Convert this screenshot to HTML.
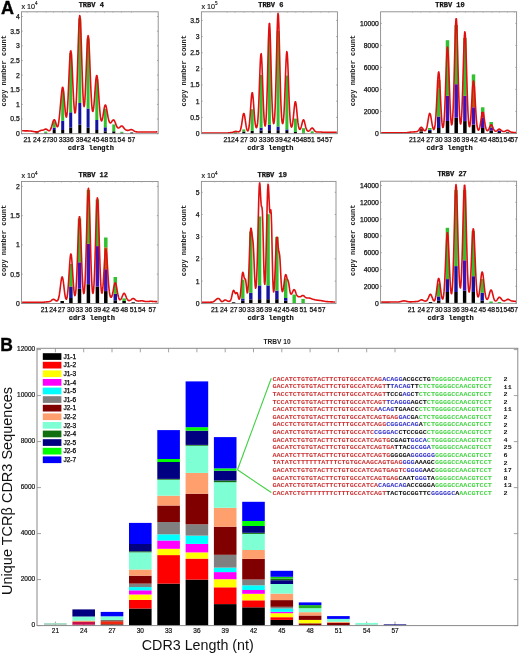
<!DOCTYPE html><html><head><meta charset="utf-8"><style>html,body{margin:0;padding:0;background:#fff;}svg{display:block;filter:blur(0.4px);}</style></head><body><svg width="520" height="654" viewBox="0 0 520 654">
<rect width="520" height="654" fill="#fff"/>
<text x="0.9" y="14" font-size="18" font-weight="bold" font-family='"Liberation Sans", sans-serif' fill="#000" stroke="#000" stroke-width="0.35">A</text>
<rect x="35.5" y="132.4" width="3" height="1.3" fill="#000"/>
<rect x="44.2" y="132.8" width="3" height="0.9" fill="#000"/>
<rect x="44.2" y="131.6" width="3" height="1.2" fill="#30c030"/>
<rect x="52.7" y="130" width="3" height="3.7" fill="#000"/>
<rect x="52.7" y="127.7" width="3" height="2.3" fill="#1414a0"/>
<rect x="52.7" y="121.5" width="3" height="6.2" fill="#30c030"/>
<rect x="61.2" y="130" width="3" height="3.7" fill="#000"/>
<rect x="61.2" y="120.8" width="3" height="9.2" fill="#1414a0"/>
<rect x="61.2" y="90.8" width="3" height="30" fill="#30c030"/>
<rect x="69.2" y="127.7" width="3" height="6" fill="#000"/>
<rect x="69.2" y="112.3" width="3" height="15.4" fill="#1414a0"/>
<rect x="69.2" y="53" width="3" height="59.3" fill="#30c030"/>
<rect x="78.3" y="124.6" width="3" height="9.1" fill="#000"/>
<rect x="78.3" y="103" width="3" height="21.6" fill="#1414a0"/>
<rect x="78.3" y="18.5" width="3" height="84.5" fill="#30c030"/>
<rect x="86.6" y="127.7" width="3" height="6" fill="#000"/>
<rect x="86.6" y="108.5" width="3" height="19.2" fill="#1414a0"/>
<rect x="86.6" y="38.5" width="3" height="70" fill="#30c030"/>
<rect x="95.3" y="130" width="3" height="3.7" fill="#000"/>
<rect x="95.3" y="120" width="3" height="10" fill="#1414a0"/>
<rect x="95.3" y="79.2" width="3" height="40.8" fill="#30c030"/>
<rect x="103.8" y="131.3" width="3" height="2.4" fill="#000"/>
<rect x="103.8" y="127.3" width="3" height="4" fill="#1414a0"/>
<rect x="103.8" y="108.8" width="3" height="18.5" fill="#30c030"/>
<rect x="112.3" y="131.3" width="3" height="2.4" fill="#000"/>
<rect x="112.3" y="124.4" width="3" height="6.9" fill="#30c030"/>
<rect x="120.3" y="132.8" width="3" height="0.9" fill="#000"/>
<rect x="120.3" y="131.8" width="3" height="1" fill="#30c030"/>
<rect x="130.2" y="132.5" width="3" height="1.2" fill="#000"/>
<path d="M22.1,130.8 L22.5,130.8 L22.9,130.81 L23.3,130.81 L23.7,130.81 L24.1,130.82 L24.5,130.83 L24.9,130.83 L25.3,130.84 L25.7,130.85 L26.1,130.86 L26.5,130.87 L26.9,130.88 L27.3,130.9 L27.7,130.91 L28.1,130.92 L28.5,130.94 L28.9,130.95 L29.3,130.97 L29.7,130.99 L30.1,131 L30.5,131.03 L30.9,131.08 L31.3,131.13 L31.7,131.19 L32.1,131.26 L32.5,131.34 L32.9,131.42 L33.3,131.5 L33.7,131.58 L34.1,131.65 L34.5,131.73 L34.9,131.79 L35.3,131.84 L35.7,131.88 L36.1,131.9 L36.5,131.91 L36.9,131.89 L37.3,131.85 L37.7,131.77 L38.1,131.66 L38.5,131.5 L38.9,131.32 L39.3,131.12 L39.7,130.92 L40.1,130.73 L40.5,130.56 L40.9,130.43 L41.3,130.33 L41.7,130.27 L42.1,130.23 L42.5,130.19 L42.9,130.13 L43.3,130.01 L43.7,129.86 L44.1,129.67 L44.5,129.46 L44.9,129.28 L45.3,129.15 L45.7,129.1 L46.1,129.14 L46.5,129.28 L46.9,129.51 L47.3,129.79 L47.7,130.08 L48.1,130.36 L48.5,130.58 L48.9,130.71 L49.3,130.71 L49.7,130.54 L50.1,130.17 L50.5,129.57 L50.9,128.71 L51.3,127.62 L51.7,126.32 L52.1,124.88 L52.5,123.42 L52.9,122.04 L53.3,120.89 L53.7,120.09 L54.1,119.72 L54.5,119.83 L54.9,120.39 L55.3,121.35 L55.7,122.57 L56.1,123.9 L56.5,125.17 L56.9,126.2 L57.3,126.78 L57.7,126.71 L58.1,125.78 L58.5,123.86 L58.9,120.99 L59.3,117.37 L59.7,113.3 L60.1,109 L60.5,104.57 L60.9,100.06 L61.3,95.67 L61.7,91.76 L62.1,88.8 L62.5,87.25 L62.9,87.39 L63.3,89.24 L63.7,92.6 L64.1,97.07 L64.5,102.12 L64.9,107.16 L65.3,111.64 L65.7,115.04 L66.1,116.96 L66.5,117.08 L66.9,115.18 L67.3,111.17 L67.7,105.13 L68.1,97.33 L68.5,88.26 L68.9,78.59 L69.3,69.17 L69.7,60.92 L70.1,54.7 L70.5,51.2 L70.9,50.8 L71.3,53.5 L71.7,58.96 L72.1,66.51 L72.5,75.32 L72.9,84.5 L73.3,93.23 L73.7,100.85 L74.1,106.88 L74.5,110.99 L74.9,112.98 L75.3,112.71 L75.7,110.05 L76.1,104.91 L76.5,97.3 L76.9,87.37 L77.3,75.51 L77.7,62.39 L78.1,48.96 L78.5,36.38 L78.9,25.9 L79.3,18.66 L79.7,15.5 L80.1,16.8 L80.5,22.42 L80.9,31.72 L81.3,43.64 L81.7,56.93 L82.1,70.29 L82.5,82.57 L82.9,92.85 L83.3,100.49 L83.7,105.11 L84.1,106.56 L84.5,104.84 L84.9,100.14 L85.3,92.83 L85.7,83.49 L86.1,72.87 L86.5,61.94 L86.9,51.76 L87.3,43.42 L87.7,37.82 L88.1,35.6 L88.5,37 L88.9,41.8 L89.3,49.43 L89.7,59 L90.1,69.52 L90.5,80.01 L90.9,89.65 L91.3,97.84 L91.7,104.21 L92.1,108.6 L92.5,111 L92.9,111.49 L93.3,110.2 L93.7,107.33 L94.1,103.15 L94.5,98.02 L94.9,92.37 L95.3,86.76 L95.7,81.77 L96.1,77.95 L96.5,75.77 L96.9,75.53 L97.3,77.27 L97.7,80.81 L98.1,85.79 L98.5,91.67 L98.9,97.91 L99.3,103.96 L99.7,109.39 L100.1,113.91 L100.5,117.33 L100.9,119.61 L101.3,120.76 L101.7,120.89 L102.1,120.1 L102.5,118.56 L102.9,116.45 L103.3,113.97 L103.7,111.39 L104.1,108.96 L104.5,106.95 L104.9,105.58 L105.3,105 L105.7,105.27 L106.1,106.35 L106.5,108.09 L106.9,110.29 L107.3,112.72 L107.7,115.15 L108.1,117.4 L108.5,119.33 L108.9,120.85 L109.3,121.95 L109.7,122.63 L110.1,122.95 L110.5,122.96 L110.9,122.7 L111.3,122.26 L111.7,121.69 L112.1,121.08 L112.5,120.52 L112.9,120.1 L113.3,119.89 L113.7,119.94 L114.1,120.28 L114.5,120.9 L114.9,121.74 L115.3,122.75 L115.7,123.83 L116.1,124.9 L116.5,125.89 L116.9,126.73 L117.3,127.38 L117.7,127.82 L118.1,128.04 L118.5,128.07 L118.9,127.94 L119.3,127.69 L119.7,127.35 L120.1,126.96 L120.5,126.59 L120.9,126.27 L121.3,126.06 L121.7,125.99 L122.1,126.08 L122.5,126.31 L122.9,126.68 L123.3,127.14 L123.7,127.65 L124.1,128.17 L124.5,128.67 L124.9,129.11 L125.3,129.49 L125.7,129.8 L126.1,130.03 L126.5,130.2 L126.9,130.31 L127.3,130.38 L127.7,130.4 L128.1,130.38 L128.5,130.31 L128.9,130.21 L129.3,130.09 L129.7,129.94 L130.1,129.8 L130.5,129.67 L130.9,129.59 L131.3,129.56 L131.7,129.6 L132.1,129.71 L132.5,129.89 L132.9,130.12 L133.3,130.39 L133.7,130.67 L134.1,130.95 L134.5,131.2 L134.9,131.42 L135.3,131.6 L135.7,131.73 L136.1,131.82 L136.5,131.88 L136.9,131.92 L137.3,131.95 L137.7,131.97 L138.1,131.98 L138.5,131.98 L138.9,131.99 L139.3,131.99 L139.7,131.99 L140.1,131.99 L140.5,131.99 L140.9,131.99 L141.3,131.99 L141.7,131.99 L142.1,131.99 L142.5,131.99 L142.9,131.99 L143.3,131.99 L143.7,131.99 L144.1,131.98 L144.5,131.98 L144.9,131.98 L145.3,131.98 L145.7,131.98 L146.1,131.98 L146.5,131.98 L146.9,131.98 L147.3,131.98 L147.7,131.98 L148.1,131.97 L148.5,131.97 L148.9,131.97 L149.3,131.97 L149.7,131.97 L150.1,131.97 L150.5,131.96 L150.9,131.96 L151.3,131.96 L151.7,131.96 L152.1,131.95 L152.5,131.95 L152.9,131.95 L153.3,131.95 L153.7,131.94 L154.1,131.94 L154.5,131.94 L154.9,131.93 L155.3,131.93 L155.7,131.93 L156.1,131.92 L156.5,131.92 L156.9,131.91 L157.3,131.91" fill="none" stroke="#e01010" stroke-width="1.6" stroke-linejoin="round"/>
<rect x="21.5" y="11.8" width="136.7" height="121.9" fill="none" stroke="#8a8a8a" stroke-width="0.9"/>
<line x1="21.5" y1="133.7" x2="22.8" y2="133.7" stroke="#8a8a8a" stroke-width="0.7"/>
<line x1="158.2" y1="133.7" x2="156.89999999999998" y2="133.7" stroke="#8a8a8a" stroke-width="0.7"/>
<text x="19.7" y="136.1" text-anchor="end" font-size="6.8" font-family='"Liberation Sans", sans-serif' fill="#111" stroke="#111" stroke-width="0.25">0</text>
<line x1="21.5" y1="119.05" x2="22.8" y2="119.05" stroke="#8a8a8a" stroke-width="0.7"/>
<line x1="158.2" y1="119.05" x2="156.89999999999998" y2="119.05" stroke="#8a8a8a" stroke-width="0.7"/>
<text x="19.7" y="121.45" text-anchor="end" font-size="6.8" font-family='"Liberation Sans", sans-serif' fill="#111" stroke="#111" stroke-width="0.25">0.5</text>
<line x1="21.5" y1="104.4" x2="22.8" y2="104.4" stroke="#8a8a8a" stroke-width="0.7"/>
<line x1="158.2" y1="104.4" x2="156.89999999999998" y2="104.4" stroke="#8a8a8a" stroke-width="0.7"/>
<text x="19.7" y="106.8" text-anchor="end" font-size="6.8" font-family='"Liberation Sans", sans-serif' fill="#111" stroke="#111" stroke-width="0.25">1</text>
<line x1="21.5" y1="89.75" x2="22.8" y2="89.75" stroke="#8a8a8a" stroke-width="0.7"/>
<line x1="158.2" y1="89.75" x2="156.89999999999998" y2="89.75" stroke="#8a8a8a" stroke-width="0.7"/>
<text x="19.7" y="92.15" text-anchor="end" font-size="6.8" font-family='"Liberation Sans", sans-serif' fill="#111" stroke="#111" stroke-width="0.25">1.5</text>
<line x1="21.5" y1="75.1" x2="22.8" y2="75.1" stroke="#8a8a8a" stroke-width="0.7"/>
<line x1="158.2" y1="75.1" x2="156.89999999999998" y2="75.1" stroke="#8a8a8a" stroke-width="0.7"/>
<text x="19.7" y="77.5" text-anchor="end" font-size="6.8" font-family='"Liberation Sans", sans-serif' fill="#111" stroke="#111" stroke-width="0.25">2</text>
<line x1="21.5" y1="60.45" x2="22.8" y2="60.45" stroke="#8a8a8a" stroke-width="0.7"/>
<line x1="158.2" y1="60.45" x2="156.89999999999998" y2="60.45" stroke="#8a8a8a" stroke-width="0.7"/>
<text x="19.7" y="62.85" text-anchor="end" font-size="6.8" font-family='"Liberation Sans", sans-serif' fill="#111" stroke="#111" stroke-width="0.25">2.5</text>
<line x1="21.5" y1="45.8" x2="22.8" y2="45.8" stroke="#8a8a8a" stroke-width="0.7"/>
<line x1="158.2" y1="45.8" x2="156.89999999999998" y2="45.8" stroke="#8a8a8a" stroke-width="0.7"/>
<text x="19.7" y="48.2" text-anchor="end" font-size="6.8" font-family='"Liberation Sans", sans-serif' fill="#111" stroke="#111" stroke-width="0.25">3</text>
<line x1="21.5" y1="31.15" x2="22.8" y2="31.15" stroke="#8a8a8a" stroke-width="0.7"/>
<line x1="158.2" y1="31.15" x2="156.89999999999998" y2="31.15" stroke="#8a8a8a" stroke-width="0.7"/>
<text x="19.7" y="33.55" text-anchor="end" font-size="6.8" font-family='"Liberation Sans", sans-serif' fill="#111" stroke="#111" stroke-width="0.25">3.5</text>
<line x1="21.5" y1="16.5" x2="22.8" y2="16.5" stroke="#8a8a8a" stroke-width="0.7"/>
<line x1="158.2" y1="16.5" x2="156.89999999999998" y2="16.5" stroke="#8a8a8a" stroke-width="0.7"/>
<text x="19.7" y="18.9" text-anchor="end" font-size="6.8" font-family='"Liberation Sans", sans-serif' fill="#111" stroke="#111" stroke-width="0.25">4</text>
<line x1="27.2" y1="11.8" x2="27.2" y2="13.0" stroke="#aaa" stroke-width="0.6"/>
<text x="27.2" y="142.1" text-anchor="middle" font-size="6.8" font-family='"Liberation Sans", sans-serif' fill="#111" stroke="#111" stroke-width="0.25">21</text>
<line x1="36.9" y1="11.8" x2="36.9" y2="13.0" stroke="#aaa" stroke-width="0.6"/>
<text x="36.9" y="142.1" text-anchor="middle" font-size="6.8" font-family='"Liberation Sans", sans-serif' fill="#111" stroke="#111" stroke-width="0.25">24</text>
<line x1="46.2" y1="11.8" x2="46.2" y2="13.0" stroke="#aaa" stroke-width="0.6"/>
<text x="46.2" y="142.1" text-anchor="middle" font-size="6.8" font-family='"Liberation Sans", sans-serif' fill="#111" stroke="#111" stroke-width="0.25">27</text>
<line x1="53.4" y1="11.8" x2="53.4" y2="13.0" stroke="#aaa" stroke-width="0.6"/>
<text x="53.4" y="142.1" text-anchor="middle" font-size="6.8" font-family='"Liberation Sans", sans-serif' fill="#111" stroke="#111" stroke-width="0.25">30</text>
<line x1="62.5" y1="11.8" x2="62.5" y2="13.0" stroke="#aaa" stroke-width="0.6"/>
<text x="62.5" y="142.1" text-anchor="middle" font-size="6.8" font-family='"Liberation Sans", sans-serif' fill="#111" stroke="#111" stroke-width="0.25">33</text>
<line x1="69.9" y1="11.8" x2="69.9" y2="13.0" stroke="#aaa" stroke-width="0.6"/>
<text x="69.9" y="142.1" text-anchor="middle" font-size="6.8" font-family='"Liberation Sans", sans-serif' fill="#111" stroke="#111" stroke-width="0.25">36</text>
<line x1="79.6" y1="11.8" x2="79.6" y2="13.0" stroke="#aaa" stroke-width="0.6"/>
<text x="79.6" y="142.1" text-anchor="middle" font-size="6.8" font-family='"Liberation Sans", sans-serif' fill="#111" stroke="#111" stroke-width="0.25">39</text>
<line x1="87.2" y1="11.8" x2="87.2" y2="13.0" stroke="#aaa" stroke-width="0.6"/>
<text x="87.2" y="142.1" text-anchor="middle" font-size="6.8" font-family='"Liberation Sans", sans-serif' fill="#111" stroke="#111" stroke-width="0.25">42</text>
<line x1="95.8" y1="11.8" x2="95.8" y2="13.0" stroke="#aaa" stroke-width="0.6"/>
<text x="95.8" y="142.1" text-anchor="middle" font-size="6.8" font-family='"Liberation Sans", sans-serif' fill="#111" stroke="#111" stroke-width="0.25">45</text>
<line x1="104.4" y1="11.8" x2="104.4" y2="13.0" stroke="#aaa" stroke-width="0.6"/>
<text x="104.4" y="142.1" text-anchor="middle" font-size="6.8" font-family='"Liberation Sans", sans-serif' fill="#111" stroke="#111" stroke-width="0.25">48</text>
<line x1="113" y1="11.8" x2="113" y2="13.0" stroke="#aaa" stroke-width="0.6"/>
<text x="113" y="142.1" text-anchor="middle" font-size="6.8" font-family='"Liberation Sans", sans-serif' fill="#111" stroke="#111" stroke-width="0.25">51</text>
<line x1="121.4" y1="11.8" x2="121.4" y2="13.0" stroke="#aaa" stroke-width="0.6"/>
<text x="121.4" y="142.1" text-anchor="middle" font-size="6.8" font-family='"Liberation Sans", sans-serif' fill="#111" stroke="#111" stroke-width="0.25">54</text>
<line x1="131.5" y1="11.8" x2="131.5" y2="13.0" stroke="#aaa" stroke-width="0.6"/>
<text x="131.5" y="142.1" text-anchor="middle" font-size="6.8" font-family='"Liberation Sans", sans-serif' fill="#111" stroke="#111" stroke-width="0.25">57</text>
<text transform="translate(90.85,150) scale(1,0.92)" text-anchor="middle" font-size="7" font-weight="bold" font-family='"Liberation Mono", monospace' fill="#111" stroke="#111" stroke-width="0.2">cdr3 length</text>
<text transform="translate(91.25,7) scale(1,1)" text-anchor="middle" font-size="7" font-weight="bold" font-family='"Liberation Mono", monospace' fill="#111" stroke="#111" stroke-width="0.25">TRBV 4</text>
<text transform="translate(6.3,70.75) rotate(-90)" x="0" y="0" text-anchor="middle" font-size="7" font-weight="bold" font-family='"Liberation Mono", monospace' fill="#222">copy number count</text>
<text x="21.5" y="8.6" font-size="7.2" font-family='"Liberation Sans", sans-serif' fill="#111" stroke="#111" stroke-width="0.15">x 10<tspan font-size="4.6" dy="-3.4">4</tspan></text>
<rect x="234" y="132.8" width="3" height="0.7" fill="#000"/>
<rect x="234" y="132" width="3" height="0.8" fill="#30c030"/>
<rect x="242.3" y="131.5" width="3" height="2" fill="#000"/>
<rect x="242.3" y="129.4" width="3" height="2.1" fill="#30c030"/>
<rect x="250.7" y="130.8" width="3" height="2.7" fill="#000"/>
<rect x="250.7" y="109.2" width="3" height="21.6" fill="#30c030"/>
<rect x="259.6" y="130.5" width="3" height="3" fill="#000"/>
<rect x="259.6" y="127.7" width="3" height="2.8" fill="#1414a0"/>
<rect x="259.6" y="75" width="3" height="52.7" fill="#30c030"/>
<rect x="267.9" y="130.2" width="3" height="3.3" fill="#000"/>
<rect x="267.9" y="124.8" width="3" height="5.4" fill="#1414a0"/>
<rect x="267.9" y="37.5" width="3" height="87.3" fill="#30c030"/>
<rect x="276.6" y="130.2" width="3" height="3.3" fill="#000"/>
<rect x="276.6" y="126.5" width="3" height="3.7" fill="#1414a0"/>
<rect x="276.6" y="31" width="3" height="95.5" fill="#30c030"/>
<rect x="285.4" y="131" width="3" height="2.5" fill="#000"/>
<rect x="285.4" y="129.4" width="3" height="1.6" fill="#1414a0"/>
<rect x="285.4" y="75.6" width="3" height="53.8" fill="#30c030"/>
<rect x="293.9" y="132" width="3" height="1.5" fill="#000"/>
<rect x="293.9" y="118.6" width="3" height="13.4" fill="#30c030"/>
<rect x="302" y="132.8" width="3" height="0.7" fill="#000"/>
<rect x="302" y="128.2" width="3" height="4.6" fill="#30c030"/>
<rect x="310.7" y="131.3" width="3" height="2.2" fill="#30c030"/>
<path d="M202,133 L202.4,133 L202.8,133 L203.2,133 L203.6,133 L204,133 L204.4,133 L204.8,133 L205.2,133 L205.6,133 L206,133 L206.4,133 L206.8,133 L207.2,133 L207.6,133 L208,133 L208.4,133 L208.8,133 L209.2,133 L209.6,133 L210,133 L210.4,133 L210.8,133 L211.2,133 L211.6,133 L212,133 L212.4,133 L212.8,133 L213.2,133 L213.6,133 L214,133 L214.4,133 L214.8,133 L215.2,133 L215.6,133 L216,133 L216.4,133 L216.8,133 L217.2,133 L217.6,133 L218,133 L218.4,133 L218.8,133 L219.2,133 L219.6,133 L220,133 L220.4,133 L220.8,133 L221.2,133 L221.6,133 L222,133 L222.4,133 L222.8,133 L223.2,133 L223.6,133 L224,133 L224.4,133 L224.8,133 L225.2,133 L225.6,133 L226,133 L226.4,133 L226.8,132.98 L227.2,132.96 L227.6,132.93 L228,132.9 L228.4,132.86 L228.8,132.82 L229.2,132.78 L229.6,132.74 L230,132.7 L230.4,132.66 L230.8,132.62 L231.2,132.58 L231.6,132.53 L232,132.46 L232.4,132.38 L232.8,132.27 L233.2,132.14 L233.6,131.99 L234,131.83 L234.4,131.67 L234.8,131.53 L235.2,131.44 L235.6,131.39 L236,131.4 L236.4,131.45 L236.8,131.54 L237.2,131.64 L237.6,131.73 L238,131.81 L238.4,131.84 L238.8,131.81 L239.2,131.69 L239.6,131.41 L240,130.91 L240.4,130.08 L240.8,128.82 L241.2,127.05 L241.6,124.78 L242,122.11 L242.4,119.29 L242.8,116.66 L243.2,114.62 L243.6,113.53 L244,113.57 L244.4,114.75 L244.8,116.86 L245.2,119.57 L245.6,122.45 L246,125.17 L246.4,127.47 L246.8,129.21 L247.2,130.35 L247.6,130.89 L248,130.8 L248.4,130.01 L248.8,128.37 L249.2,125.74 L249.6,122 L250,117.17 L250.4,111.5 L250.8,105.48 L251.2,99.85 L251.6,95.42 L252,92.9 L252.4,92.71 L252.8,94.85 L253.2,98.92 L253.6,104.21 L254,109.9 L254.4,115.28 L254.8,119.85 L255.2,123.37 L255.6,125.8 L256,127.23 L256.4,127.74 L256.8,127.32 L257.2,125.8 L257.6,122.91 L258,118.28 L258.4,111.59 L258.8,102.77 L259.2,92.15 L259.6,80.59 L260,69.45 L260.4,60.33 L260.8,54.74 L261.2,53.69 L261.6,57.4 L262,65.23 L262.4,75.86 L262.8,87.67 L263.2,99.12 L263.6,109.06 L264,116.83 L264.4,122.22 L264.8,125.25 L265.2,126 L265.6,124.41 L266,120.26 L266.4,113.23 L266.8,103.06 L267.2,89.86 L267.6,74.3 L268,57.81 L268.4,42.4 L268.8,30.35 L269.2,23.64 L269.6,23.44 L270,29.75 L270.4,41.41 L270.8,56.45 L271.2,72.59 L271.6,87.82 L272,100.77 L272.4,110.74 L272.8,117.67 L273.2,121.84 L273.6,123.6 L274,123.12 L274.4,120.32 L274.8,114.91 L275.2,106.47 L275.6,94.78 L276,80.03 L276.4,63.12 L276.8,45.74 L277.2,30.12 L277.6,18.68 L278,13.34 L278.4,15.06 L278.8,23.51 L279.2,37.2 L279.6,53.88 L280,71.16 L280.4,87.04 L280.8,100.24 L281.2,110.25 L281.6,117.15 L282,121.37 L282.4,123.39 L282.8,123.55 L283.2,121.97 L283.6,118.53 L284,113.03 L284.4,105.32 L284.8,95.58 L285.2,84.39 L285.6,72.89 L286,62.57 L286.4,55.05 L286.8,51.63 L287.2,52.92 L287.6,58.73 L288,68.03 L288.4,79.34 L288.8,91.04 L289.2,101.8 L289.6,110.75 L290,117.56 L290.4,122.28 L290.8,125.22 L291.2,126.71 L291.6,127.03 L292,126.35 L292.4,124.73 L292.8,122.2 L293.2,118.82 L293.6,114.81 L294,110.54 L294.4,106.56 L294.8,103.47 L295.2,101.8 L295.6,101.85 L296,103.63 L296.4,106.82 L296.8,110.91 L297.2,115.29 L297.6,119.42 L298,122.94 L298.4,125.66 L298.8,127.57 L299.2,128.75 L299.6,129.31 L300,129.35 L300.4,128.93 L300.8,128.09 L301.2,126.88 L301.6,125.37 L302,123.71 L302.4,122.1 L302.8,120.78 L303.2,119.98 L303.6,119.83 L304,120.38 L304.4,121.52 L304.8,123.08 L305.2,124.81 L305.6,126.49 L306,127.97 L306.4,129.14 L306.8,130 L307.2,130.59 L307.6,130.94 L308,131.12 L308.4,131.16 L308.8,131.08 L309.2,130.88 L309.6,130.56 L310,130.14 L310.4,129.63 L310.8,129.09 L311.2,128.59 L311.6,128.21 L312,128.01 L312.4,128.04 L312.8,128.3 L313.2,128.75 L313.6,129.31 L314,129.9 L314.4,130.47 L314.8,130.95 L315.2,131.33 L315.6,131.61 L316,131.8 L316.4,131.92 L316.8,131.99 L317.2,132.03 L317.6,132.05 L318,132.05 L318.4,132.04 L318.8,132.03 L319.2,132.01 L319.6,132 L320,131.99 L320.4,132 L320.8,132.01 L321.2,132.05 L321.6,132.09 L322,132.13 L322.4,132.18 L322.8,132.22 L323.2,132.25 L323.6,132.28 L324,132.3 L324.4,132.31 L324.8,132.32 L325.2,132.33 L325.6,132.34 L326,132.34 L326.4,132.35 L326.8,132.35 L327.2,132.35 L327.6,132.36 L328,132.36 L328.4,132.36 L328.8,132.37 L329.2,132.37 L329.6,132.37 L330,132.38 L330.4,132.38 L330.8,132.38 L331.2,132.38 L331.6,132.38 L332,132.39 L332.4,132.39 L332.8,132.39 L333.2,132.39 L333.6,132.39 L334,132.4 L334.4,132.4 L334.8,132.4 L335.2,132.4 L335.6,132.4 L336,132.4 L336.4,132.4 L336.8,132.4" fill="none" stroke="#e01010" stroke-width="1.6" stroke-linejoin="round"/>
<rect x="201.4" y="11.8" width="136" height="121.9" fill="none" stroke="#8a8a8a" stroke-width="0.9"/>
<line x1="201.4" y1="133.5" x2="202.70000000000002" y2="133.5" stroke="#8a8a8a" stroke-width="0.7"/>
<line x1="337.4" y1="133.5" x2="336.09999999999997" y2="133.5" stroke="#8a8a8a" stroke-width="0.7"/>
<text x="199.6" y="135.9" text-anchor="end" font-size="6.8" font-family='"Liberation Sans", sans-serif' fill="#111" stroke="#111" stroke-width="0.25">0</text>
<line x1="201.4" y1="117.35" x2="202.70000000000002" y2="117.35" stroke="#8a8a8a" stroke-width="0.7"/>
<line x1="337.4" y1="117.35" x2="336.09999999999997" y2="117.35" stroke="#8a8a8a" stroke-width="0.7"/>
<text x="199.6" y="119.75" text-anchor="end" font-size="6.8" font-family='"Liberation Sans", sans-serif' fill="#111" stroke="#111" stroke-width="0.25">0.5</text>
<line x1="201.4" y1="101.2" x2="202.70000000000002" y2="101.2" stroke="#8a8a8a" stroke-width="0.7"/>
<line x1="337.4" y1="101.2" x2="336.09999999999997" y2="101.2" stroke="#8a8a8a" stroke-width="0.7"/>
<text x="199.6" y="103.6" text-anchor="end" font-size="6.8" font-family='"Liberation Sans", sans-serif' fill="#111" stroke="#111" stroke-width="0.25">1</text>
<line x1="201.4" y1="85.05" x2="202.70000000000002" y2="85.05" stroke="#8a8a8a" stroke-width="0.7"/>
<line x1="337.4" y1="85.05" x2="336.09999999999997" y2="85.05" stroke="#8a8a8a" stroke-width="0.7"/>
<text x="199.6" y="87.45" text-anchor="end" font-size="6.8" font-family='"Liberation Sans", sans-serif' fill="#111" stroke="#111" stroke-width="0.25">1.5</text>
<line x1="201.4" y1="68.9" x2="202.70000000000002" y2="68.9" stroke="#8a8a8a" stroke-width="0.7"/>
<line x1="337.4" y1="68.9" x2="336.09999999999997" y2="68.9" stroke="#8a8a8a" stroke-width="0.7"/>
<text x="199.6" y="71.3" text-anchor="end" font-size="6.8" font-family='"Liberation Sans", sans-serif' fill="#111" stroke="#111" stroke-width="0.25">2</text>
<line x1="201.4" y1="52.75" x2="202.70000000000002" y2="52.75" stroke="#8a8a8a" stroke-width="0.7"/>
<line x1="337.4" y1="52.75" x2="336.09999999999997" y2="52.75" stroke="#8a8a8a" stroke-width="0.7"/>
<text x="199.6" y="55.15" text-anchor="end" font-size="6.8" font-family='"Liberation Sans", sans-serif' fill="#111" stroke="#111" stroke-width="0.25">2.5</text>
<line x1="201.4" y1="36.6" x2="202.70000000000002" y2="36.6" stroke="#8a8a8a" stroke-width="0.7"/>
<line x1="337.4" y1="36.6" x2="336.09999999999997" y2="36.6" stroke="#8a8a8a" stroke-width="0.7"/>
<text x="199.6" y="39" text-anchor="end" font-size="6.8" font-family='"Liberation Sans", sans-serif' fill="#111" stroke="#111" stroke-width="0.25">3</text>
<line x1="201.4" y1="20.45" x2="202.70000000000002" y2="20.45" stroke="#8a8a8a" stroke-width="0.7"/>
<line x1="337.4" y1="20.45" x2="336.09999999999997" y2="20.45" stroke="#8a8a8a" stroke-width="0.7"/>
<text x="199.6" y="22.85" text-anchor="end" font-size="6.8" font-family='"Liberation Sans", sans-serif' fill="#111" stroke="#111" stroke-width="0.25">3.5</text>
<line x1="227.2" y1="11.8" x2="227.2" y2="13.0" stroke="#aaa" stroke-width="0.6"/>
<text x="227.2" y="142.1" text-anchor="middle" font-size="6.8" font-family='"Liberation Sans", sans-serif' fill="#111" stroke="#111" stroke-width="0.25">21</text>
<line x1="234.9" y1="11.8" x2="234.9" y2="13.0" stroke="#aaa" stroke-width="0.6"/>
<text x="234.9" y="142.1" text-anchor="middle" font-size="6.8" font-family='"Liberation Sans", sans-serif' fill="#111" stroke="#111" stroke-width="0.25">24</text>
<line x1="244" y1="11.8" x2="244" y2="13.0" stroke="#aaa" stroke-width="0.6"/>
<text x="244" y="142.1" text-anchor="middle" font-size="6.8" font-family='"Liberation Sans", sans-serif' fill="#111" stroke="#111" stroke-width="0.25">27</text>
<line x1="253.2" y1="11.8" x2="253.2" y2="13.0" stroke="#aaa" stroke-width="0.6"/>
<text x="253.2" y="142.1" text-anchor="middle" font-size="6.8" font-family='"Liberation Sans", sans-serif' fill="#111" stroke="#111" stroke-width="0.25">30</text>
<line x1="262.5" y1="11.8" x2="262.5" y2="13.0" stroke="#aaa" stroke-width="0.6"/>
<text x="262.5" y="142.1" text-anchor="middle" font-size="6.8" font-family='"Liberation Sans", sans-serif' fill="#111" stroke="#111" stroke-width="0.25">33</text>
<line x1="270.3" y1="11.8" x2="270.3" y2="13.0" stroke="#aaa" stroke-width="0.6"/>
<text x="270.3" y="142.1" text-anchor="middle" font-size="6.8" font-family='"Liberation Sans", sans-serif' fill="#111" stroke="#111" stroke-width="0.25">36</text>
<line x1="278.9" y1="11.8" x2="278.9" y2="13.0" stroke="#aaa" stroke-width="0.6"/>
<text x="278.9" y="142.1" text-anchor="middle" font-size="6.8" font-family='"Liberation Sans", sans-serif' fill="#111" stroke="#111" stroke-width="0.25">39</text>
<line x1="287.3" y1="11.8" x2="287.3" y2="13.0" stroke="#aaa" stroke-width="0.6"/>
<text x="287.3" y="142.1" text-anchor="middle" font-size="6.8" font-family='"Liberation Sans", sans-serif' fill="#111" stroke="#111" stroke-width="0.25">42</text>
<line x1="295.7" y1="11.8" x2="295.7" y2="13.0" stroke="#aaa" stroke-width="0.6"/>
<text x="295.7" y="142.1" text-anchor="middle" font-size="6.8" font-family='"Liberation Sans", sans-serif' fill="#111" stroke="#111" stroke-width="0.25">45</text>
<line x1="303.2" y1="11.8" x2="303.2" y2="13.0" stroke="#aaa" stroke-width="0.6"/>
<text x="303.2" y="142.1" text-anchor="middle" font-size="6.8" font-family='"Liberation Sans", sans-serif' fill="#111" stroke="#111" stroke-width="0.25">48</text>
<line x1="311" y1="11.8" x2="311" y2="13.0" stroke="#aaa" stroke-width="0.6"/>
<text x="311" y="142.1" text-anchor="middle" font-size="6.8" font-family='"Liberation Sans", sans-serif' fill="#111" stroke="#111" stroke-width="0.25">51</text>
<line x1="320.8" y1="11.8" x2="320.8" y2="13.0" stroke="#aaa" stroke-width="0.6"/>
<text x="320.8" y="142.1" text-anchor="middle" font-size="6.8" font-family='"Liberation Sans", sans-serif' fill="#111" stroke="#111" stroke-width="0.25">54</text>
<line x1="328.7" y1="11.8" x2="328.7" y2="13.0" stroke="#aaa" stroke-width="0.6"/>
<text x="328.7" y="142.1" text-anchor="middle" font-size="6.8" font-family='"Liberation Sans", sans-serif' fill="#111" stroke="#111" stroke-width="0.25">57</text>
<text transform="translate(270.4,150) scale(1,0.92)" text-anchor="middle" font-size="7" font-weight="bold" font-family='"Liberation Mono", monospace' fill="#111" stroke="#111" stroke-width="0.2">cdr3 length</text>
<text transform="translate(270.8,7) scale(1,1)" text-anchor="middle" font-size="7" font-weight="bold" font-family='"Liberation Mono", monospace' fill="#111" stroke="#111" stroke-width="0.25">TRBV 6</text>
<text transform="translate(185.5,70.75) rotate(-90)" x="0" y="0" text-anchor="middle" font-size="7" font-weight="bold" font-family='"Liberation Mono", monospace' fill="#222">copy number count</text>
<text x="201.4" y="8.6" font-size="7.2" font-family='"Liberation Sans", sans-serif' fill="#111" stroke="#111" stroke-width="0.15">x 10<tspan font-size="4.6" dy="-3.4">5</tspan></text>
<rect x="419.45" y="131.5" width="3.5" height="1.9" fill="#000"/>
<rect x="419.45" y="128.5" width="3.5" height="3" fill="#802020"/>
<rect x="428.05" y="131" width="3.5" height="2.4" fill="#000"/>
<rect x="428.05" y="129.8" width="3.5" height="1.2" fill="#1414a0"/>
<rect x="428.05" y="128" width="3.5" height="1.8" fill="#30c030"/>
<rect x="436.95" y="128" width="3.5" height="5.4" fill="#000"/>
<rect x="436.95" y="116.5" width="3.5" height="11.5" fill="#1414a0"/>
<rect x="436.95" y="88.8" width="3.5" height="27.7" fill="#30c030"/>
<rect x="436.95" y="80" width="3.5" height="8.8" fill="#b06010"/>
<rect x="445.75" y="121" width="3.5" height="12.4" fill="#000"/>
<rect x="445.75" y="95.8" width="3.5" height="25.2" fill="#3c14b8"/>
<rect x="445.75" y="40.2" width="3.5" height="55.6" fill="#30c030"/>
<rect x="454.45" y="117.7" width="3.5" height="15.7" fill="#000"/>
<rect x="454.45" y="84.2" width="3.5" height="33.5" fill="#3c14b8"/>
<rect x="454.45" y="25" width="3.5" height="59.2" fill="#30c030"/>
<rect x="463.15" y="121.1" width="3.5" height="12.3" fill="#000"/>
<rect x="463.15" y="95.8" width="3.5" height="25.3" fill="#3c14b8"/>
<rect x="463.15" y="38" width="3.5" height="57.8" fill="#30c030"/>
<rect x="471.75" y="124.6" width="3.5" height="8.8" fill="#000"/>
<rect x="471.75" y="107.3" width="3.5" height="17.3" fill="#3c14b8"/>
<rect x="471.75" y="86" width="3.5" height="21.3" fill="#b06010"/>
<rect x="471.75" y="74.4" width="3.5" height="11.6" fill="#30c030"/>
<rect x="480.95" y="128" width="3.5" height="5.4" fill="#000"/>
<rect x="480.95" y="117.7" width="3.5" height="10.3" fill="#3c14b8"/>
<rect x="480.95" y="112" width="3.5" height="5.7" fill="#c02020"/>
<rect x="480.95" y="107.3" width="3.5" height="4.7" fill="#30c030"/>
<rect x="489.45" y="130.5" width="3.5" height="2.9" fill="#000"/>
<rect x="489.45" y="127.4" width="3.5" height="3.1" fill="#3c14b8"/>
<rect x="489.45" y="122" width="3.5" height="5.4" fill="#30c030"/>
<rect x="497.55" y="132" width="3.5" height="1.4" fill="#000"/>
<rect x="497.55" y="130.5" width="3.5" height="1.5" fill="#1414a0"/>
<rect x="505.85" y="132.3" width="3.5" height="1.1" fill="#000"/>
<path d="M381.2,132.9 L381.6,132.9 L382,132.9 L382.4,132.9 L382.8,132.9 L383.2,132.9 L383.6,132.9 L384,132.9 L384.4,132.9 L384.8,132.9 L385.2,132.9 L385.6,132.9 L386,132.9 L386.4,132.9 L386.8,132.9 L387.2,132.89 L387.6,132.89 L388,132.89 L388.4,132.89 L388.8,132.89 L389.2,132.89 L389.6,132.89 L390,132.89 L390.4,132.89 L390.8,132.89 L391.2,132.88 L391.6,132.88 L392,132.88 L392.4,132.88 L392.8,132.88 L393.2,132.88 L393.6,132.88 L394,132.87 L394.4,132.87 L394.8,132.87 L395.2,132.87 L395.6,132.87 L396,132.87 L396.4,132.86 L396.8,132.86 L397.2,132.86 L397.6,132.86 L398,132.85 L398.4,132.85 L398.8,132.85 L399.2,132.85 L399.6,132.84 L400,132.84 L400.4,132.84 L400.8,132.84 L401.2,132.83 L401.6,132.83 L402,132.83 L402.4,132.82 L402.8,132.82 L403.2,132.82 L403.6,132.81 L404,132.81 L404.4,132.81 L404.8,132.8 L405.2,132.8 L405.6,132.78 L406,132.76 L406.4,132.72 L406.8,132.68 L407.2,132.63 L407.6,132.58 L408,132.52 L408.4,132.46 L408.8,132.4 L409.2,132.34 L409.6,132.27 L410,132.22 L410.4,132.16 L410.8,132.11 L411.2,132.07 L411.6,132.03 L412,132 L412.4,131.98 L412.8,131.95 L413.2,131.93 L413.6,131.91 L414,131.88 L414.4,131.86 L414.8,131.83 L415.2,131.81 L415.6,131.77 L416,131.73 L416.4,131.67 L416.8,131.57 L417.2,131.43 L417.6,131.22 L418,130.92 L418.4,130.53 L418.8,130.03 L419.2,129.46 L419.6,128.85 L420,128.26 L420.4,127.76 L420.8,127.43 L421.2,127.3 L421.6,127.4 L422,127.71 L422.4,128.19 L422.8,128.75 L423.2,129.33 L423.6,129.87 L424,130.31 L424.4,130.61 L424.8,130.75 L425.2,130.69 L425.6,130.4 L426,129.81 L426.4,128.86 L426.8,127.48 L427.2,125.66 L427.6,123.44 L428,120.94 L428.4,118.4 L428.8,116.1 L429.2,114.35 L429.6,113.41 L430,113.43 L430.4,114.41 L430.8,116.2 L431.2,118.53 L431.6,121.11 L432,123.62 L432.4,125.84 L432.8,127.62 L433.2,128.85 L433.6,129.49 L434,129.48 L434.4,128.71 L434.8,127.01 L435.2,124.18 L435.6,119.99 L436,114.33 L436.4,107.28 L436.8,99.2 L437.2,90.74 L437.6,82.83 L438,76.5 L438.4,72.66 L438.8,71.92 L439.2,74.41 L439.6,79.74 L440,87.13 L440.4,95.57 L440.8,104.05 L441.2,111.75 L441.6,118.12 L442,122.9 L442.4,126.01 L442.8,127.49 L443.2,127.32 L443.6,125.45 L444,121.69 L444.4,115.84 L444.8,107.81 L445.2,97.76 L445.6,86.2 L446,74.09 L446.4,62.76 L446.8,53.66 L447.2,48.1 L447.6,46.95 L448,50.37 L448.4,57.84 L448.8,68.23 L449.2,80.12 L449.6,92.07 L450,102.92 L450.4,111.88 L450.8,118.57 L451.2,122.88 L451.6,124.84 L452,124.45 L452.4,121.58 L452.8,116.04 L453.2,107.6 L453.6,96.22 L454,82.24 L454.4,66.51 L454.8,50.45 L455.2,35.89 L455.6,24.79 L456,18.78 L456.4,18.78 L456.8,24.79 L457.2,35.89 L457.6,50.44 L458,66.5 L458.4,82.23 L458.8,96.19 L459.2,107.54 L459.6,115.91 L460,121.32 L460.4,123.95 L460.8,123.96 L461.2,121.38 L461.6,116.16 L462,108.21 L462.4,97.63 L462.8,84.86 L463.2,70.79 L463.6,56.81 L464,44.58 L464.4,35.8 L464.8,31.77 L465.2,33.13 L465.6,39.67 L466,50.37 L466.4,63.7 L466.8,77.93 L467.2,91.52 L467.6,103.35 L468,112.79 L468.4,119.66 L468.8,124.1 L469.2,126.36 L469.6,126.7 L470,125.28 L470.4,122.22 L470.8,117.61 L471.2,111.65 L471.6,104.71 L472,97.41 L472.4,90.56 L472.8,85.04 L473.2,81.63 L473.6,80.87 L474,82.85 L474.4,87.26 L474.8,93.43 L475.2,100.51 L475.6,107.64 L476,114.14 L476.4,119.58 L476.8,123.78 L477.2,126.77 L477.6,128.72 L478,129.8 L478.4,130.19 L478.8,129.98 L479.2,129.23 L479.6,127.95 L480,126.15 L480.4,123.87 L480.8,121.25 L481.2,118.51 L481.6,115.94 L482,113.87 L482.4,112.6 L482.8,112.33 L483.2,113.09 L483.6,114.77 L484,117.1 L484.4,119.78 L484.8,122.48 L485.2,124.93 L485.6,126.98 L486,128.55 L486.4,129.64 L486.8,130.31 L487.2,130.61 L487.6,130.6 L488,130.31 L488.4,129.79 L488.8,129.06 L489.2,128.17 L489.6,127.21 L490,126.28 L490.4,125.5 L490.8,124.98 L491.2,124.8 L491.6,124.99 L492,125.52 L492.4,126.32 L492.8,127.26 L493.2,128.23 L493.6,129.14 L494,129.91 L494.4,130.5 L494.8,130.92 L495.2,131.16 L495.6,131.26 L496,131.22 L496.4,131.07 L496.8,130.82 L497.2,130.5 L497.6,130.14 L498,129.77 L498.4,129.45 L498.8,129.21 L499.2,129.11 L499.6,129.14 L500,129.3 L500.4,129.58 L500.8,129.93 L501.2,130.3 L501.6,130.65 L502,130.95 L502.4,131.19 L502.8,131.36 L503.2,131.47 L503.6,131.5 L504,131.49 L504.4,131.42 L504.8,131.3 L505.2,131.14 L505.6,130.95 L506,130.75 L506.4,130.56 L506.8,130.4 L507.2,130.31 L507.6,130.3 L508,130.38 L508.4,130.55 L508.8,130.77 L509.2,131.04 L509.6,131.31 L510,131.56 L510.4,131.79 L510.8,131.97 L511.2,132.11 L511.6,132.22 L512,132.3 L512.4,132.36 L512.8,132.4 L513.2,132.44 L513.6,132.48 L514,132.51 L514.4,132.54 L514.8,132.57 L515.2,132.6 L515.6,132.63 L516,132.66" fill="none" stroke="#e01010" stroke-width="1.6" stroke-linejoin="round"/>
<rect x="380.6" y="11.8" width="136" height="121.7" fill="none" stroke="#8a8a8a" stroke-width="0.9"/>
<line x1="380.6" y1="133.4" x2="381.90000000000003" y2="133.4" stroke="#8a8a8a" stroke-width="0.7"/>
<line x1="516.6" y1="133.4" x2="515.3000000000001" y2="133.4" stroke="#8a8a8a" stroke-width="0.7"/>
<text x="378.8" y="135.8" text-anchor="end" font-size="6.8" font-family='"Liberation Sans", sans-serif' fill="#111" stroke="#111" stroke-width="0.25">0</text>
<line x1="380.6" y1="111.4" x2="381.90000000000003" y2="111.4" stroke="#8a8a8a" stroke-width="0.7"/>
<line x1="516.6" y1="111.4" x2="515.3000000000001" y2="111.4" stroke="#8a8a8a" stroke-width="0.7"/>
<text x="378.8" y="113.8" text-anchor="end" font-size="6.8" font-family='"Liberation Sans", sans-serif' fill="#111" stroke="#111" stroke-width="0.25">2000</text>
<line x1="380.6" y1="89.4" x2="381.90000000000003" y2="89.4" stroke="#8a8a8a" stroke-width="0.7"/>
<line x1="516.6" y1="89.4" x2="515.3000000000001" y2="89.4" stroke="#8a8a8a" stroke-width="0.7"/>
<text x="378.8" y="91.8" text-anchor="end" font-size="6.8" font-family='"Liberation Sans", sans-serif' fill="#111" stroke="#111" stroke-width="0.25">4000</text>
<line x1="380.6" y1="67.4" x2="381.90000000000003" y2="67.4" stroke="#8a8a8a" stroke-width="0.7"/>
<line x1="516.6" y1="67.4" x2="515.3000000000001" y2="67.4" stroke="#8a8a8a" stroke-width="0.7"/>
<text x="378.8" y="69.8" text-anchor="end" font-size="6.8" font-family='"Liberation Sans", sans-serif' fill="#111" stroke="#111" stroke-width="0.25">6000</text>
<line x1="380.6" y1="45.4" x2="381.90000000000003" y2="45.4" stroke="#8a8a8a" stroke-width="0.7"/>
<line x1="516.6" y1="45.4" x2="515.3000000000001" y2="45.4" stroke="#8a8a8a" stroke-width="0.7"/>
<text x="378.8" y="47.8" text-anchor="end" font-size="6.8" font-family='"Liberation Sans", sans-serif' fill="#111" stroke="#111" stroke-width="0.25">8000</text>
<line x1="380.6" y1="23.4" x2="381.90000000000003" y2="23.4" stroke="#8a8a8a" stroke-width="0.7"/>
<line x1="516.6" y1="23.4" x2="515.3000000000001" y2="23.4" stroke="#8a8a8a" stroke-width="0.7"/>
<text x="378.8" y="25.8" text-anchor="end" font-size="6.8" font-family='"Liberation Sans", sans-serif' fill="#111" stroke="#111" stroke-width="0.25">10000</text>
<line x1="412.7" y1="11.8" x2="412.7" y2="13.0" stroke="#aaa" stroke-width="0.6"/>
<text x="412.7" y="141.9" text-anchor="middle" font-size="6.8" font-family='"Liberation Sans", sans-serif' fill="#111" stroke="#111" stroke-width="0.25">21</text>
<line x1="420.8" y1="11.8" x2="420.8" y2="13.0" stroke="#aaa" stroke-width="0.6"/>
<text x="420.8" y="141.9" text-anchor="middle" font-size="6.8" font-family='"Liberation Sans", sans-serif' fill="#111" stroke="#111" stroke-width="0.25">24</text>
<line x1="430" y1="11.8" x2="430" y2="13.0" stroke="#aaa" stroke-width="0.6"/>
<text x="430" y="141.9" text-anchor="middle" font-size="6.8" font-family='"Liberation Sans", sans-serif' fill="#111" stroke="#111" stroke-width="0.25">27</text>
<line x1="438.8" y1="11.8" x2="438.8" y2="13.0" stroke="#aaa" stroke-width="0.6"/>
<text x="438.8" y="141.9" text-anchor="middle" font-size="6.8" font-family='"Liberation Sans", sans-serif' fill="#111" stroke="#111" stroke-width="0.25">30</text>
<line x1="447.8" y1="11.8" x2="447.8" y2="13.0" stroke="#aaa" stroke-width="0.6"/>
<text x="447.8" y="141.9" text-anchor="middle" font-size="6.8" font-family='"Liberation Sans", sans-serif' fill="#111" stroke="#111" stroke-width="0.25">33</text>
<line x1="456.6" y1="11.8" x2="456.6" y2="13.0" stroke="#aaa" stroke-width="0.6"/>
<text x="456.6" y="141.9" text-anchor="middle" font-size="6.8" font-family='"Liberation Sans", sans-serif' fill="#111" stroke="#111" stroke-width="0.25">36</text>
<line x1="465.4" y1="11.8" x2="465.4" y2="13.0" stroke="#aaa" stroke-width="0.6"/>
<text x="465.4" y="141.9" text-anchor="middle" font-size="6.8" font-family='"Liberation Sans", sans-serif' fill="#111" stroke="#111" stroke-width="0.25">39</text>
<line x1="473.9" y1="11.8" x2="473.9" y2="13.0" stroke="#aaa" stroke-width="0.6"/>
<text x="473.9" y="141.9" text-anchor="middle" font-size="6.8" font-family='"Liberation Sans", sans-serif' fill="#111" stroke="#111" stroke-width="0.25">42</text>
<line x1="483.1" y1="11.8" x2="483.1" y2="13.0" stroke="#aaa" stroke-width="0.6"/>
<text x="483.1" y="141.9" text-anchor="middle" font-size="6.8" font-family='"Liberation Sans", sans-serif' fill="#111" stroke="#111" stroke-width="0.25">45</text>
<line x1="491.9" y1="11.8" x2="491.9" y2="13.0" stroke="#aaa" stroke-width="0.6"/>
<text x="491.9" y="141.9" text-anchor="middle" font-size="6.8" font-family='"Liberation Sans", sans-serif' fill="#111" stroke="#111" stroke-width="0.25">48</text>
<line x1="499.3" y1="11.8" x2="499.3" y2="13.0" stroke="#aaa" stroke-width="0.6"/>
<text x="499.3" y="141.9" text-anchor="middle" font-size="6.8" font-family='"Liberation Sans", sans-serif' fill="#111" stroke="#111" stroke-width="0.25">51</text>
<line x1="507.4" y1="11.8" x2="507.4" y2="13.0" stroke="#aaa" stroke-width="0.6"/>
<text x="507.4" y="141.9" text-anchor="middle" font-size="6.8" font-family='"Liberation Sans", sans-serif' fill="#111" stroke="#111" stroke-width="0.25">54</text>
<line x1="514.3" y1="11.8" x2="514.3" y2="13.0" stroke="#aaa" stroke-width="0.6"/>
<text x="514.3" y="141.9" text-anchor="middle" font-size="6.8" font-family='"Liberation Sans", sans-serif' fill="#111" stroke="#111" stroke-width="0.25">57</text>
<text transform="translate(449.6,149.8) scale(1,0.92)" text-anchor="middle" font-size="7" font-weight="bold" font-family='"Liberation Mono", monospace' fill="#111" stroke="#111" stroke-width="0.2">cdr3 length</text>
<text transform="translate(450,7) scale(1,1)" text-anchor="middle" font-size="7" font-weight="bold" font-family='"Liberation Mono", monospace' fill="#111" stroke="#111" stroke-width="0.25">TRBV 10</text>
<text transform="translate(355,70.65) rotate(-90)" x="0" y="0" text-anchor="middle" font-size="7" font-weight="bold" font-family='"Liberation Mono", monospace' fill="#222">copy number count</text>
<rect x="60.45" y="301" width="3.5" height="2.4" fill="#000"/>
<rect x="69.15" y="298" width="3.5" height="5.4" fill="#000"/>
<rect x="69.15" y="286.5" width="3.5" height="11.5" fill="#1414a0"/>
<rect x="69.15" y="264" width="3.5" height="22.5" fill="#30c030"/>
<rect x="77.75" y="288.8" width="3.5" height="14.6" fill="#000"/>
<rect x="77.75" y="262.3" width="3.5" height="26.5" fill="#3c14b8"/>
<rect x="77.75" y="218.5" width="3.5" height="43.8" fill="#30c030"/>
<rect x="86.65" y="284.2" width="3.5" height="19.2" fill="#000"/>
<rect x="86.65" y="243.8" width="3.5" height="40.4" fill="#3c14b8"/>
<rect x="86.65" y="190" width="3.5" height="53.8" fill="#30c030"/>
<rect x="95.65" y="286.5" width="3.5" height="16.9" fill="#000"/>
<rect x="95.65" y="246.1" width="3.5" height="40.4" fill="#3c14b8"/>
<rect x="95.65" y="199.5" width="3.5" height="46.6" fill="#30c030"/>
<rect x="104.05" y="291.1" width="3.5" height="12.3" fill="#000"/>
<rect x="104.05" y="269.2" width="3.5" height="21.9" fill="#3c14b8"/>
<rect x="104.05" y="247.3" width="3.5" height="21.9" fill="#b06010"/>
<rect x="104.05" y="237.5" width="3.5" height="9.8" fill="#30c030"/>
<rect x="113.55" y="300.3" width="3.5" height="3.1" fill="#000"/>
<rect x="113.55" y="293.8" width="3.5" height="6.5" fill="#1414a0"/>
<rect x="113.55" y="277" width="3.5" height="16.8" fill="#30c030"/>
<rect x="122.35" y="301" width="3.5" height="2.4" fill="#000"/>
<rect x="122.35" y="298.4" width="3.5" height="2.6" fill="#30c030"/>
<rect x="131.45" y="302.3" width="3.5" height="1.1" fill="#000"/>
<path d="M22.1,302.4 L22.5,302.4 L22.9,302.4 L23.3,302.4 L23.7,302.4 L24.1,302.4 L24.5,302.4 L24.9,302.4 L25.3,302.4 L25.7,302.4 L26.1,302.4 L26.5,302.4 L26.9,302.4 L27.3,302.4 L27.7,302.4 L28.1,302.4 L28.5,302.4 L28.9,302.4 L29.3,302.4 L29.7,302.4 L30.1,302.4 L30.5,302.4 L30.9,302.4 L31.3,302.4 L31.7,302.4 L32.1,302.4 L32.5,302.4 L32.9,302.4 L33.3,302.4 L33.7,302.4 L34.1,302.4 L34.5,302.4 L34.9,302.4 L35.3,302.4 L35.7,302.4 L36.1,302.4 L36.5,302.4 L36.9,302.4 L37.3,302.4 L37.7,302.4 L38.1,302.4 L38.5,302.4 L38.9,302.4 L39.3,302.4 L39.7,302.4 L40.1,302.4 L40.5,302.39 L40.9,302.38 L41.3,302.37 L41.7,302.34 L42.1,302.32 L42.5,302.29 L42.9,302.25 L43.3,302.22 L43.7,302.18 L44.1,302.14 L44.5,302.1 L44.9,302.06 L45.3,302.02 L45.7,301.99 L46.1,301.95 L46.5,301.92 L46.9,301.88 L47.3,301.85 L47.7,301.82 L48.1,301.79 L48.5,301.75 L48.9,301.69 L49.3,301.6 L49.7,301.48 L50.1,301.31 L50.5,301.09 L50.9,300.82 L51.3,300.52 L51.7,300.19 L52.1,299.87 L52.5,299.6 L52.9,299.4 L53.3,299.31 L53.7,299.33 L54.1,299.45 L54.5,299.67 L54.9,299.95 L55.3,300.25 L55.7,300.53 L56.1,300.76 L56.5,300.9 L56.9,300.92 L57.3,300.78 L57.7,300.4 L58.1,299.72 L58.5,298.63 L58.9,297.04 L59.3,294.89 L59.7,292.21 L60.1,289.08 L60.5,285.74 L60.9,282.49 L61.3,279.71 L61.7,277.76 L62.1,276.92 L62.5,277.32 L62.9,278.92 L63.3,281.5 L63.7,284.72 L64.1,288.2 L64.5,291.56 L64.9,294.52 L65.3,296.86 L65.7,298.46 L66.1,299.24 L66.5,299.14 L66.9,298.09 L67.3,295.98 L67.7,292.73 L68.1,288.31 L68.5,282.82 L68.9,276.54 L69.3,269.95 L69.7,263.7 L70.1,258.53 L70.5,255.1 L70.9,253.9 L71.3,255.1 L71.7,258.52 L72.1,263.69 L72.5,269.91 L72.9,276.46 L73.3,282.64 L73.7,287.94 L74.1,292 L74.5,294.61 L74.9,295.62 L75.3,294.91 L75.7,292.34 L76.1,287.75 L76.5,281.04 L76.9,272.29 L77.3,261.84 L77.7,250.35 L78.1,238.87 L78.5,228.62 L78.9,220.89 L79.3,216.73 L79.7,216.73 L80.1,220.89 L80.5,228.62 L80.9,238.86 L81.3,250.35 L81.7,261.81 L82.1,272.23 L82.5,280.9 L82.9,287.42 L83.3,291.66 L83.7,293.58 L84.1,293.15 L84.5,290.27 L84.9,284.77 L85.3,276.52 L85.7,265.53 L86.1,252.16 L86.5,237.18 L86.9,221.82 L87.3,207.68 L87.7,196.47 L88.1,189.69 L88.5,188.28 L88.9,192.45 L89.3,201.61 L89.7,214.49 L90.1,229.45 L90.5,244.8 L90.9,259.11 L91.3,271.35 L91.7,280.98 L92.1,287.81 L92.5,291.92 L92.9,293.41 L93.3,292.39 L93.7,288.84 L94.1,282.69 L94.5,273.93 L94.9,262.73 L95.3,249.62 L95.7,235.55 L96.1,221.82 L96.5,210.01 L96.9,201.6 L97.3,197.77 L97.7,199.04 L98.1,205.25 L98.5,215.51 L98.9,228.45 L99.3,242.49 L99.7,256.18 L100.1,268.36 L100.5,278.31 L100.9,285.7 L101.3,290.51 L101.7,292.9 L102.1,293.05 L102.5,291.16 L102.9,287.45 L103.3,282.2 L103.7,275.79 L104.1,268.77 L104.5,261.85 L104.9,255.83 L105.3,251.47 L105.7,249.34 L106.1,249.73 L106.5,252.55 L106.9,257.36 L107.3,263.51 L107.7,270.23 L108.1,276.82 L108.5,282.72 L108.9,287.61 L109.3,291.39 L109.7,294.09 L110.1,295.87 L110.5,296.9 L110.9,297.31 L111.3,297.2 L111.7,296.62 L112.1,295.59 L112.5,294.13 L112.9,292.29 L113.3,290.19 L113.7,287.98 L114.1,285.9 L114.5,284.19 L114.9,283.11 L115.3,282.8 L115.7,283.33 L116.1,284.64 L116.5,286.56 L116.9,288.85 L117.3,291.26 L117.7,293.55 L118.1,295.55 L118.5,297.18 L118.9,298.39 L119.3,299.2 L119.7,299.64 L120.1,299.76 L120.5,299.61 L120.9,299.2 L121.3,298.57 L121.7,297.75 L122.1,296.79 L122.5,295.78 L122.9,294.81 L123.3,294.01 L123.7,293.48 L124.1,293.3 L124.5,293.49 L124.9,294.02 L125.3,294.83 L125.7,295.8 L126.1,296.83 L126.5,297.81 L126.9,298.67 L127.3,299.37 L127.7,299.9 L128.1,300.27 L128.5,300.5 L128.9,300.61 L129.3,300.62 L129.7,300.54 L130.1,300.38 L130.5,300.16 L130.9,299.87 L131.3,299.55 L131.7,299.21 L132.1,298.91 L132.5,298.67 L132.9,298.53 L133.3,298.51 L133.7,298.61 L134.1,298.82 L134.5,299.12 L134.9,299.47 L135.3,299.82 L135.7,300.15 L136.1,300.44 L136.5,300.67 L136.9,300.84 L137.3,300.96 L137.7,301.03 L138.1,301.07 L138.5,301.08 L138.9,301.06 L139.3,301.02 L139.7,300.97 L140.1,300.92 L140.5,300.87 L140.9,300.82 L141.3,300.8 L141.7,300.8 L142.1,300.82 L142.5,300.87 L142.9,300.95 L143.3,301.04 L143.7,301.13 L144.1,301.22 L144.5,301.3 L144.9,301.37 L145.3,301.42 L145.7,301.46 L146.1,301.49 L146.5,301.5 L146.9,301.5 L147.3,301.5 L147.7,301.49 L148.1,301.47 L148.5,301.45 L148.9,301.42 L149.3,301.38 L149.7,301.35 L150.1,301.32 L150.5,301.31 L150.9,301.3 L151.3,301.31 L151.7,301.32 L152.1,301.35 L152.5,301.39 L152.9,301.43 L153.3,301.47 L153.7,301.5 L154.1,301.53 L154.5,301.55 L154.9,301.57 L155.3,301.58 L155.7,301.59 L156.1,301.59 L156.5,301.6 L156.9,301.6 L157.3,301.6" fill="none" stroke="#e01010" stroke-width="1.6" stroke-linejoin="round"/>
<rect x="21.5" y="181.5" width="136.6" height="122" fill="none" stroke="#8a8a8a" stroke-width="0.9"/>
<line x1="21.5" y1="303.4" x2="22.8" y2="303.4" stroke="#8a8a8a" stroke-width="0.7"/>
<line x1="158.1" y1="303.4" x2="156.79999999999998" y2="303.4" stroke="#8a8a8a" stroke-width="0.7"/>
<text x="19.7" y="305.8" text-anchor="end" font-size="6.8" font-family='"Liberation Sans", sans-serif' fill="#111" stroke="#111" stroke-width="0.25">0</text>
<line x1="21.5" y1="274.15" x2="22.8" y2="274.15" stroke="#8a8a8a" stroke-width="0.7"/>
<line x1="158.1" y1="274.15" x2="156.79999999999998" y2="274.15" stroke="#8a8a8a" stroke-width="0.7"/>
<text x="19.7" y="276.55" text-anchor="end" font-size="6.8" font-family='"Liberation Sans", sans-serif' fill="#111" stroke="#111" stroke-width="0.25">0.5</text>
<line x1="21.5" y1="244.9" x2="22.8" y2="244.9" stroke="#8a8a8a" stroke-width="0.7"/>
<line x1="158.1" y1="244.9" x2="156.79999999999998" y2="244.9" stroke="#8a8a8a" stroke-width="0.7"/>
<text x="19.7" y="247.3" text-anchor="end" font-size="6.8" font-family='"Liberation Sans", sans-serif' fill="#111" stroke="#111" stroke-width="0.25">1</text>
<line x1="21.5" y1="215.65" x2="22.8" y2="215.65" stroke="#8a8a8a" stroke-width="0.7"/>
<line x1="158.1" y1="215.65" x2="156.79999999999998" y2="215.65" stroke="#8a8a8a" stroke-width="0.7"/>
<text x="19.7" y="218.05" text-anchor="end" font-size="6.8" font-family='"Liberation Sans", sans-serif' fill="#111" stroke="#111" stroke-width="0.25">1.5</text>
<line x1="21.5" y1="186.4" x2="22.8" y2="186.4" stroke="#8a8a8a" stroke-width="0.7"/>
<line x1="158.1" y1="186.4" x2="156.79999999999998" y2="186.4" stroke="#8a8a8a" stroke-width="0.7"/>
<text x="19.7" y="188.8" text-anchor="end" font-size="6.8" font-family='"Liberation Sans", sans-serif' fill="#111" stroke="#111" stroke-width="0.25">2</text>
<line x1="44.6" y1="181.5" x2="44.6" y2="182.7" stroke="#aaa" stroke-width="0.6"/>
<text x="44.6" y="311.9" text-anchor="middle" font-size="6.8" font-family='"Liberation Sans", sans-serif' fill="#111" stroke="#111" stroke-width="0.25">21</text>
<line x1="53" y1="181.5" x2="53" y2="182.7" stroke="#aaa" stroke-width="0.6"/>
<text x="53" y="311.9" text-anchor="middle" font-size="6.8" font-family='"Liberation Sans", sans-serif' fill="#111" stroke="#111" stroke-width="0.25">24</text>
<line x1="61.5" y1="181.5" x2="61.5" y2="182.7" stroke="#aaa" stroke-width="0.6"/>
<text x="61.5" y="311.9" text-anchor="middle" font-size="6.8" font-family='"Liberation Sans", sans-serif' fill="#111" stroke="#111" stroke-width="0.25">27</text>
<line x1="70.8" y1="181.5" x2="70.8" y2="182.7" stroke="#aaa" stroke-width="0.6"/>
<text x="70.8" y="311.9" text-anchor="middle" font-size="6.8" font-family='"Liberation Sans", sans-serif' fill="#111" stroke="#111" stroke-width="0.25">30</text>
<line x1="79.3" y1="181.5" x2="79.3" y2="182.7" stroke="#aaa" stroke-width="0.6"/>
<text x="79.3" y="311.9" text-anchor="middle" font-size="6.8" font-family='"Liberation Sans", sans-serif' fill="#111" stroke="#111" stroke-width="0.25">33</text>
<line x1="88.5" y1="181.5" x2="88.5" y2="182.7" stroke="#aaa" stroke-width="0.6"/>
<text x="88.5" y="311.9" text-anchor="middle" font-size="6.8" font-family='"Liberation Sans", sans-serif' fill="#111" stroke="#111" stroke-width="0.25">36</text>
<line x1="97.3" y1="181.5" x2="97.3" y2="182.7" stroke="#aaa" stroke-width="0.6"/>
<text x="97.3" y="311.9" text-anchor="middle" font-size="6.8" font-family='"Liberation Sans", sans-serif' fill="#111" stroke="#111" stroke-width="0.25">39</text>
<line x1="106.1" y1="181.5" x2="106.1" y2="182.7" stroke="#aaa" stroke-width="0.6"/>
<text x="106.1" y="311.9" text-anchor="middle" font-size="6.8" font-family='"Liberation Sans", sans-serif' fill="#111" stroke="#111" stroke-width="0.25">42</text>
<line x1="115.3" y1="181.5" x2="115.3" y2="182.7" stroke="#aaa" stroke-width="0.6"/>
<text x="115.3" y="311.9" text-anchor="middle" font-size="6.8" font-family='"Liberation Sans", sans-serif' fill="#111" stroke="#111" stroke-width="0.25">45</text>
<line x1="124.3" y1="181.5" x2="124.3" y2="182.7" stroke="#aaa" stroke-width="0.6"/>
<text x="124.3" y="311.9" text-anchor="middle" font-size="6.8" font-family='"Liberation Sans", sans-serif' fill="#111" stroke="#111" stroke-width="0.25">48</text>
<line x1="133.5" y1="181.5" x2="133.5" y2="182.7" stroke="#aaa" stroke-width="0.6"/>
<text x="133.5" y="311.9" text-anchor="middle" font-size="6.8" font-family='"Liberation Sans", sans-serif' fill="#111" stroke="#111" stroke-width="0.25">51</text>
<line x1="141.7" y1="181.5" x2="141.7" y2="182.7" stroke="#aaa" stroke-width="0.6"/>
<text x="141.7" y="311.9" text-anchor="middle" font-size="6.8" font-family='"Liberation Sans", sans-serif' fill="#111" stroke="#111" stroke-width="0.25">54</text>
<line x1="152.3" y1="181.5" x2="152.3" y2="182.7" stroke="#aaa" stroke-width="0.6"/>
<text x="152.3" y="311.9" text-anchor="middle" font-size="6.8" font-family='"Liberation Sans", sans-serif' fill="#111" stroke="#111" stroke-width="0.25">57</text>
<text transform="translate(91.8,319.8) scale(1,0.92)" text-anchor="middle" font-size="7" font-weight="bold" font-family='"Liberation Mono", monospace' fill="#111" stroke="#111" stroke-width="0.2">cdr3 length</text>
<text transform="translate(93.3,176.7) scale(1,1)" text-anchor="middle" font-size="7" font-weight="bold" font-family='"Liberation Mono", monospace' fill="#111" stroke="#111" stroke-width="0.25">TRBV 12</text>
<text transform="translate(6.3,240.5) rotate(-90)" x="0" y="0" text-anchor="middle" font-size="7" font-weight="bold" font-family='"Liberation Mono", monospace' fill="#222">copy number count</text>
<text x="21.5" y="178.3" font-size="7.2" font-family='"Liberation Sans", sans-serif' fill="#111" stroke="#111" stroke-width="0.15">x 10<tspan font-size="4.6" dy="-3.4">4</tspan></text>
<rect x="231.9" y="302.3" width="3.4" height="1" fill="#000"/>
<rect x="241.1" y="300.8" width="3.4" height="2.5" fill="#000"/>
<rect x="241.1" y="298.5" width="3.4" height="2.3" fill="#1414a0"/>
<rect x="241.1" y="279.6" width="3.4" height="18.9" fill="#30c030"/>
<rect x="249.1" y="299.5" width="3.4" height="3.8" fill="#000"/>
<rect x="249.1" y="292.8" width="3.4" height="6.7" fill="#1414a0"/>
<rect x="249.1" y="231.6" width="3.4" height="61.2" fill="#30c030"/>
<rect x="257.9" y="299.2" width="3.4" height="4.1" fill="#000"/>
<rect x="257.9" y="285.4" width="3.4" height="13.8" fill="#1414a0"/>
<rect x="257.9" y="216.5" width="3.4" height="68.9" fill="#30c030"/>
<rect x="266.4" y="299.2" width="3.4" height="4.1" fill="#000"/>
<rect x="266.4" y="285.4" width="3.4" height="13.8" fill="#1414a0"/>
<rect x="266.4" y="214.2" width="3.4" height="71.2" fill="#30c030"/>
<rect x="275.2" y="299.2" width="3.4" height="4.1" fill="#000"/>
<rect x="275.2" y="290.6" width="3.4" height="8.6" fill="#1414a0"/>
<rect x="275.2" y="236.9" width="3.4" height="53.7" fill="#30c030"/>
<rect x="284" y="300.8" width="3.4" height="2.5" fill="#000"/>
<rect x="284" y="298" width="3.4" height="2.8" fill="#1414a0"/>
<rect x="284" y="278.4" width="3.4" height="19.6" fill="#30c030"/>
<rect x="292.5" y="294.6" width="3.4" height="8.7" fill="#30c030"/>
<rect x="301.4" y="298.9" width="3.4" height="4.4" fill="#30c030"/>
<path d="M202,302.4 L202.4,302.4 L202.8,302.39 L203.2,302.39 L203.6,302.39 L204,302.38 L204.4,302.37 L204.8,302.37 L205.2,302.36 L205.6,302.35 L206,302.34 L206.4,302.33 L206.8,302.32 L207.2,302.31 L207.6,302.29 L208,302.28 L208.4,302.27 L208.8,302.25 L209.2,302.23 L209.6,302.22 L210,302.2 L210.4,302.18 L210.8,302.16 L211.2,302.14 L211.6,302.12 L212,302.1 L212.4,302.05 L212.8,301.94 L213.2,301.78 L213.6,301.57 L214,301.31 L214.4,301.03 L214.8,300.71 L215.2,300.37 L215.6,300.02 L216,299.66 L216.4,299.32 L216.8,299 L217.2,298.74 L217.6,298.54 L218,298.44 L218.4,298.46 L218.8,298.61 L219.2,298.89 L219.6,299.29 L220,299.78 L220.4,300.31 L220.8,300.81 L221.2,301.23 L221.6,301.5 L222,301.6 L222.4,301.54 L222.8,301.37 L223.2,301.1 L223.6,300.79 L224,300.48 L224.4,300.22 L224.8,300.05 L225.2,299.99 L225.6,300.04 L226,300.18 L226.4,300.4 L226.8,300.64 L227.2,300.88 L227.6,301.08 L228,301.21 L228.4,301.29 L228.8,301.35 L229.2,301.37 L229.6,301.3 L230,301.07 L230.4,300.61 L230.8,299.84 L231.2,298.69 L231.6,297.17 L232,295.38 L232.4,293.52 L232.8,291.88 L233.2,290.74 L233.6,290.3 L234,290.59 L234.4,291.43 L234.8,292.45 L235.2,293.27 L235.6,293.58 L236,293.37 L236.4,292.91 L236.8,292.63 L237.2,292.95 L237.6,294 L238,295.59 L238.4,297.32 L238.8,298.67 L239.2,299.26 L239.6,298.8 L240,297.16 L240.4,294.32 L240.8,290.41 L241.2,285.74 L241.6,280.89 L242,276.58 L242.4,273.55 L242.8,272.3 L243.2,272.85 L243.6,274.65 L244,276.73 L244.4,278.16 L244.8,278.67 L245.2,278.86 L245.6,279.9 L246,282.54 L246.4,286.49 L246.8,290.45 L247.2,292.87 L247.6,292.62 L248,289.17 L248.4,282.55 L248.8,273.2 L249.2,262 L249.6,250.28 L250,239.75 L250.4,232.08 L250.8,228.3 L251.2,228.36 L251.6,231.01 L252,234.41 L252.4,237.31 L252.8,239.95 L253.2,243.91 L253.6,250.69 L254,260.24 L254.4,270.78 L254.8,279.88 L255.2,285.88 L255.6,288.25 L256,287.17 L256.4,282.81 L256.8,275.02 L257.2,263.63 L257.6,248.81 L258,231.54 L258.4,213.73 L258.8,198.01 L259.2,187.06 L259.6,182.7 L260,184.98 L260.4,191.83 L260.8,199.61 L261.2,204.91 L261.6,206.71 L262,207.48 L262.4,211.74 L262.8,222.65 L263.2,239.48 L263.6,257.99 L264,273.28 L264.4,282.29 L264.8,284.33 L265.2,280.06 L265.6,270.42 L266,256.33 L266.4,239.04 L266.8,220.49 L267.2,203.35 L267.6,190.51 L268,184.29 L268.4,185.44 L268.8,192.57 L269.2,202.22 L269.6,210.04 L270,212.98 L270.4,211.46 L270.8,209.72 L271.2,213.3 L271.6,225.14 L272,243.41 L272.4,262.99 L272.8,278.87 L273.2,288.53 L273.6,292.03 L274,290.63 L274.4,285.61 L274.8,277.9 L275.2,268.36 L275.6,258.08 L276,248.51 L276.4,241.17 L276.8,237.27 L277.2,237.19 L277.6,240.23 L278,244.72 L278.4,248.75 L278.8,251.26 L279.2,252.72 L279.6,254.89 L280,259.42 L280.4,266.55 L280.8,274.88 L281.2,282.42 L281.6,287.78 L282,290.71 L282.4,291.61 L282.8,291.04 L283.2,289.42 L283.6,287.01 L284,284.06 L284.4,280.89 L284.8,277.97 L285.2,275.77 L285.6,274.68 L286,274.79 L286.4,275.87 L286.8,277.37 L287.2,278.73 L287.6,279.69 L288,280.49 L288.4,281.68 L288.8,283.67 L289.2,286.37 L289.6,289.22 L290,291.62 L290.4,293.22 L290.8,294 L291.2,294.14 L291.6,293.84 L292,293.23 L292.4,292.42 L292.8,291.5 L293.2,290.63 L293.6,289.95 L294,289.61 L294.4,289.7 L294.8,290.21 L295.2,291.07 L295.6,292.13 L296,293.23 L296.4,294.25 L296.8,295.1 L297.2,295.75 L297.6,296.21 L298,296.51 L298.4,296.68 L298.8,296.78 L299.2,296.81 L299.6,296.8 L300,296.76 L300.4,296.66 L300.8,296.5 L301.2,296.28 L301.6,296.03 L302,295.78 L302.4,295.58 L302.8,295.48 L303.2,295.52 L303.6,295.7 L304,296 L304.4,296.38 L304.8,296.77 L305.2,297.13 L305.6,297.44 L306,297.66 L306.4,297.82 L306.8,297.91 L307.2,297.97 L307.6,298 L308,298.01 L308.4,298.01 L308.8,298.02 L309.2,298.04 L309.6,298.08 L310,298.16 L310.4,298.29 L310.8,298.44 L311.2,298.62 L311.6,298.8 L312,298.94 L312.4,299.07 L312.8,299.19 L313.2,299.31 L313.6,299.41 L314,299.5 L314.4,299.6 L314.8,299.72 L315.2,299.84 L315.6,299.95 L316,300.01 L316.4,300.05 L316.8,300.1 L317.2,300.15 L317.6,300.2 L318,300.25 L318.4,300.3 L318.8,300.34 L319.2,300.38 L319.6,300.43 L320,300.47 L320.4,300.52 L320.8,300.57 L321.2,300.63 L321.6,300.7 L322,300.77 L322.4,300.84 L322.8,300.92 L323.2,301 L323.6,301.08 L324,301.16 L324.4,301.23 L324.8,301.31 L325.2,301.38 L325.6,301.44 L326,301.5 L326.4,301.54 L326.8,301.58 L327.2,301.61 L327.6,301.64 L328,301.67 L328.4,301.7 L328.8,301.73 L329.2,301.75 L329.6,301.78 L330,301.8 L330.4,301.82 L330.8,301.85 L331.2,301.87 L331.6,301.89 L332,301.91 L332.4,301.92 L332.8,301.94 L333.2,301.95 L333.6,301.96 L334,301.97 L334.4,301.98 L334.8,301.99 L335.2,302" fill="none" stroke="#e01010" stroke-width="1.6" stroke-linejoin="round"/>
<rect x="201.4" y="181.4" width="134.6" height="122.2" fill="none" stroke="#8a8a8a" stroke-width="0.9"/>
<line x1="201.4" y1="303.3" x2="202.70000000000002" y2="303.3" stroke="#8a8a8a" stroke-width="0.7"/>
<line x1="336" y1="303.3" x2="334.7" y2="303.3" stroke="#8a8a8a" stroke-width="0.7"/>
<text x="199.6" y="305.7" text-anchor="end" font-size="6.8" font-family='"Liberation Sans", sans-serif' fill="#111" stroke="#111" stroke-width="0.25">0</text>
<line x1="201.4" y1="281.1" x2="202.70000000000002" y2="281.1" stroke="#8a8a8a" stroke-width="0.7"/>
<line x1="336" y1="281.1" x2="334.7" y2="281.1" stroke="#8a8a8a" stroke-width="0.7"/>
<text x="199.6" y="283.5" text-anchor="end" font-size="6.8" font-family='"Liberation Sans", sans-serif' fill="#111" stroke="#111" stroke-width="0.25">1</text>
<line x1="201.4" y1="258.9" x2="202.70000000000002" y2="258.9" stroke="#8a8a8a" stroke-width="0.7"/>
<line x1="336" y1="258.9" x2="334.7" y2="258.9" stroke="#8a8a8a" stroke-width="0.7"/>
<text x="199.6" y="261.3" text-anchor="end" font-size="6.8" font-family='"Liberation Sans", sans-serif' fill="#111" stroke="#111" stroke-width="0.25">2</text>
<line x1="201.4" y1="236.7" x2="202.70000000000002" y2="236.7" stroke="#8a8a8a" stroke-width="0.7"/>
<line x1="336" y1="236.7" x2="334.7" y2="236.7" stroke="#8a8a8a" stroke-width="0.7"/>
<text x="199.6" y="239.1" text-anchor="end" font-size="6.8" font-family='"Liberation Sans", sans-serif' fill="#111" stroke="#111" stroke-width="0.25">3</text>
<line x1="201.4" y1="214.5" x2="202.70000000000002" y2="214.5" stroke="#8a8a8a" stroke-width="0.7"/>
<line x1="336" y1="214.5" x2="334.7" y2="214.5" stroke="#8a8a8a" stroke-width="0.7"/>
<text x="199.6" y="216.9" text-anchor="end" font-size="6.8" font-family='"Liberation Sans", sans-serif' fill="#111" stroke="#111" stroke-width="0.25">4</text>
<line x1="201.4" y1="192.3" x2="202.70000000000002" y2="192.3" stroke="#8a8a8a" stroke-width="0.7"/>
<line x1="336" y1="192.3" x2="334.7" y2="192.3" stroke="#8a8a8a" stroke-width="0.7"/>
<text x="199.6" y="194.7" text-anchor="end" font-size="6.8" font-family='"Liberation Sans", sans-serif' fill="#111" stroke="#111" stroke-width="0.25">5</text>
<line x1="214.8" y1="181.4" x2="214.8" y2="182.6" stroke="#aaa" stroke-width="0.6"/>
<text x="214.8" y="312" text-anchor="middle" font-size="6.8" font-family='"Liberation Sans", sans-serif' fill="#111" stroke="#111" stroke-width="0.25">21</text>
<line x1="223.7" y1="181.4" x2="223.7" y2="182.6" stroke="#aaa" stroke-width="0.6"/>
<text x="223.7" y="312" text-anchor="middle" font-size="6.8" font-family='"Liberation Sans", sans-serif' fill="#111" stroke="#111" stroke-width="0.25">24</text>
<line x1="233.7" y1="181.4" x2="233.7" y2="182.6" stroke="#aaa" stroke-width="0.6"/>
<text x="233.7" y="312" text-anchor="middle" font-size="6.8" font-family='"Liberation Sans", sans-serif' fill="#111" stroke="#111" stroke-width="0.25">27</text>
<line x1="242.3" y1="181.4" x2="242.3" y2="182.6" stroke="#aaa" stroke-width="0.6"/>
<text x="242.3" y="312" text-anchor="middle" font-size="6.8" font-family='"Liberation Sans", sans-serif' fill="#111" stroke="#111" stroke-width="0.25">30</text>
<line x1="250.9" y1="181.4" x2="250.9" y2="182.6" stroke="#aaa" stroke-width="0.6"/>
<text x="250.9" y="312" text-anchor="middle" font-size="6.8" font-family='"Liberation Sans", sans-serif' fill="#111" stroke="#111" stroke-width="0.25">33</text>
<line x1="259.8" y1="181.4" x2="259.8" y2="182.6" stroke="#aaa" stroke-width="0.6"/>
<text x="259.8" y="312" text-anchor="middle" font-size="6.8" font-family='"Liberation Sans", sans-serif' fill="#111" stroke="#111" stroke-width="0.25">36</text>
<line x1="268.2" y1="181.4" x2="268.2" y2="182.6" stroke="#aaa" stroke-width="0.6"/>
<text x="268.2" y="312" text-anchor="middle" font-size="6.8" font-family='"Liberation Sans", sans-serif' fill="#111" stroke="#111" stroke-width="0.25">39</text>
<line x1="277.4" y1="181.4" x2="277.4" y2="182.6" stroke="#aaa" stroke-width="0.6"/>
<text x="277.4" y="312" text-anchor="middle" font-size="6.8" font-family='"Liberation Sans", sans-serif' fill="#111" stroke="#111" stroke-width="0.25">42</text>
<line x1="285.7" y1="181.4" x2="285.7" y2="182.6" stroke="#aaa" stroke-width="0.6"/>
<text x="285.7" y="312" text-anchor="middle" font-size="6.8" font-family='"Liberation Sans", sans-serif' fill="#111" stroke="#111" stroke-width="0.25">45</text>
<line x1="294.3" y1="181.4" x2="294.3" y2="182.6" stroke="#aaa" stroke-width="0.6"/>
<text x="294.3" y="312" text-anchor="middle" font-size="6.8" font-family='"Liberation Sans", sans-serif' fill="#111" stroke="#111" stroke-width="0.25">48</text>
<line x1="303.2" y1="181.4" x2="303.2" y2="182.6" stroke="#aaa" stroke-width="0.6"/>
<text x="303.2" y="312" text-anchor="middle" font-size="6.8" font-family='"Liberation Sans", sans-serif' fill="#111" stroke="#111" stroke-width="0.25">51</text>
<line x1="313.2" y1="181.4" x2="313.2" y2="182.6" stroke="#aaa" stroke-width="0.6"/>
<text x="313.2" y="312" text-anchor="middle" font-size="6.8" font-family='"Liberation Sans", sans-serif' fill="#111" stroke="#111" stroke-width="0.25">54</text>
<line x1="321.8" y1="181.4" x2="321.8" y2="182.6" stroke="#aaa" stroke-width="0.6"/>
<text x="321.8" y="312" text-anchor="middle" font-size="6.8" font-family='"Liberation Sans", sans-serif' fill="#111" stroke="#111" stroke-width="0.25">57</text>
<text transform="translate(270.7,319.9) scale(1,0.92)" text-anchor="middle" font-size="7" font-weight="bold" font-family='"Liberation Mono", monospace' fill="#111" stroke="#111" stroke-width="0.2">cdr3 length</text>
<text transform="translate(272.2,176.6) scale(1,1)" text-anchor="middle" font-size="7" font-weight="bold" font-family='"Liberation Mono", monospace' fill="#111" stroke="#111" stroke-width="0.25">TRBV 19</text>
<text transform="translate(185.5,240.5) rotate(-90)" x="0" y="0" text-anchor="middle" font-size="7" font-weight="bold" font-family='"Liberation Mono", monospace' fill="#222">copy number count</text>
<text x="201.4" y="178.2" font-size="7.2" font-family='"Liberation Sans", sans-serif' fill="#111" stroke="#111" stroke-width="0.15">x 10<tspan font-size="4.6" dy="-3.4">4</tspan></text>
<rect x="428.8" y="302" width="3.4" height="1.1" fill="#000"/>
<rect x="437" y="300.7" width="3.4" height="2.4" fill="#000"/>
<rect x="437" y="296.4" width="3.4" height="4.3" fill="#1414a0"/>
<rect x="437" y="283.4" width="3.4" height="13" fill="#30c030"/>
<rect x="445.7" y="292" width="3.4" height="11.1" fill="#000"/>
<rect x="445.7" y="279.1" width="3.4" height="12.9" fill="#1414a0"/>
<rect x="445.7" y="227.8" width="3.4" height="51.3" fill="#30c030"/>
<rect x="454.3" y="292" width="3.4" height="11.1" fill="#000"/>
<rect x="454.3" y="266.1" width="3.4" height="25.9" fill="#1414a0"/>
<rect x="454.3" y="190" width="3.4" height="76.1" fill="#30c030"/>
<rect x="462.9" y="290.6" width="3.4" height="12.5" fill="#000"/>
<rect x="462.9" y="260.3" width="3.4" height="30.3" fill="#3c14b8"/>
<rect x="462.9" y="190" width="3.4" height="70.3" fill="#30c030"/>
<rect x="471.6" y="292" width="3.4" height="11.1" fill="#000"/>
<rect x="471.6" y="276.2" width="3.4" height="15.8" fill="#1414a0"/>
<rect x="471.6" y="231" width="3.4" height="45.2" fill="#30c030"/>
<rect x="480.5" y="300.7" width="3.4" height="2.4" fill="#000"/>
<rect x="480.5" y="292.8" width="3.4" height="7.9" fill="#1414a0"/>
<rect x="480.5" y="279" width="3.4" height="13.8" fill="#30c030"/>
<rect x="489.4" y="301.5" width="3.4" height="1.6" fill="#30c030"/>
<rect x="497.7" y="302" width="3.4" height="1.1" fill="#30c030"/>
<path d="M381.2,302.1 L381.6,302.1 L382,302.1 L382.4,302.1 L382.8,302.1 L383.2,302.1 L383.6,302.1 L384,302.1 L384.4,302.1 L384.8,302.1 L385.2,302.09 L385.6,302.09 L386,302.09 L386.4,302.09 L386.8,302.09 L387.2,302.09 L387.6,302.09 L388,302.08 L388.4,302.08 L388.8,302.08 L389.2,302.08 L389.6,302.08 L390,302.07 L390.4,302.07 L390.8,302.07 L391.2,302.07 L391.6,302.06 L392,302.06 L392.4,302.06 L392.8,302.06 L393.2,302.05 L393.6,302.05 L394,302.04 L394.4,302.04 L394.8,302.04 L395.2,302.03 L395.6,302.03 L396,302.02 L396.4,302.02 L396.8,302.02 L397.2,302.01 L397.6,302.01 L398,302 L398.4,301.98 L398.8,301.94 L399.2,301.88 L399.6,301.8 L400,301.7 L400.4,301.6 L400.8,301.49 L401.2,301.39 L401.6,301.28 L402,301.18 L402.4,301.09 L402.8,301.01 L403.2,300.95 L403.6,300.91 L404,300.9 L404.4,300.91 L404.8,300.95 L405.2,301 L405.6,301.08 L406,301.16 L406.4,301.25 L406.8,301.35 L407.2,301.45 L407.6,301.55 L408,301.64 L408.4,301.72 L408.8,301.8 L409.2,301.85 L409.6,301.89 L410,301.9 L410.4,301.9 L410.8,301.89 L411.2,301.88 L411.6,301.86 L412,301.85 L412.4,301.82 L412.8,301.8 L413.2,301.78 L413.6,301.75 L414,301.73 L414.4,301.7 L414.8,301.67 L415.2,301.65 L415.6,301.62 L416,301.59 L416.4,301.56 L416.8,301.52 L417.2,301.47 L417.6,301.4 L418,301.31 L418.4,301.18 L418.8,301.01 L419.2,300.81 L419.6,300.58 L420,300.34 L420.4,300.12 L420.8,299.94 L421.2,299.83 L421.6,299.8 L422,299.85 L422.4,299.98 L422.8,300.16 L423.2,300.37 L423.6,300.58 L424,300.77 L424.4,300.93 L424.8,301.04 L425.2,301.09 L425.6,301.09 L426,301 L426.4,300.82 L426.8,300.53 L427.2,300.1 L427.6,299.5 L428,298.73 L428.4,297.83 L428.8,296.84 L429.2,295.88 L429.6,295.06 L430,294.5 L430.4,294.29 L430.8,294.48 L431.2,295.05 L431.6,295.92 L432,296.98 L432.4,298.09 L432.8,299.14 L433.2,300 L433.6,300.6 L434,300.87 L434.4,300.76 L434.8,300.21 L435.2,299.13 L435.6,297.47 L436,295.2 L436.4,292.39 L436.8,289.18 L437.2,285.84 L437.6,282.73 L438,280.25 L438.4,278.75 L438.8,278.44 L439.2,279.38 L439.6,281.43 L440,284.29 L440.4,287.57 L440.8,290.88 L441.2,293.89 L441.6,296.34 L442,298.08 L442.4,299.01 L442.8,299.01 L443.2,297.96 L443.6,295.65 L444,291.89 L444.4,286.49 L444.8,279.4 L445.2,270.84 L445.6,261.32 L446,251.69 L446.4,243.01 L446.8,236.43 L447.2,232.86 L447.6,232.85 L448,236.4 L448.4,242.97 L448.8,251.61 L449.2,261.19 L449.6,270.63 L450,279.02 L450.4,285.79 L450.8,290.59 L451.2,293.28 L451.6,293.75 L452,291.84 L452.4,287.33 L452.8,279.98 L453.2,269.68 L453.6,256.61 L454,241.39 L454.4,225.18 L454.8,209.62 L455.2,196.58 L455.6,187.82 L456,184.6 L456.4,187.38 L456.8,195.71 L457.2,208.33 L457.6,223.49 L458,239.31 L458.4,254.16 L458.8,266.84 L459.2,276.71 L459.6,283.5 L460,287.24 L460.4,288 L460.8,285.79 L461.2,280.56 L461.6,272.24 L462,260.94 L462.4,247.09 L462.8,231.61 L463.2,215.92 L463.6,201.79 L464,191.08 L464.4,185.32 L464.8,185.38 L465.2,191.28 L465.6,202.13 L466,216.38 L466.4,232.21 L466.8,247.84 L467.2,261.87 L467.6,273.43 L468,282.15 L468.4,288.04 L468.8,291.29 L469.2,292.14 L469.6,290.78 L470,287.29 L470.4,281.74 L470.8,274.31 L471.2,265.36 L471.6,255.57 L472,245.9 L472.4,237.49 L472.8,231.47 L473.2,228.72 L473.6,229.65 L474,234.13 L474.4,241.49 L474.8,250.7 L475.2,260.6 L475.6,270.16 L476,278.57 L476.4,285.4 L476.8,290.52 L477.2,294.01 L477.6,296.08 L478,296.94 L478.4,296.77 L478.8,295.66 L479.2,293.68 L479.6,290.91 L480,287.48 L480.4,283.63 L480.8,279.72 L481.2,276.2 L481.6,273.52 L482,272.08 L482.4,272.09 L482.8,273.55 L483.2,276.24 L483.6,279.78 L484,283.72 L484.4,287.61 L484.8,291.11 L485.2,294.01 L485.6,296.24 L486,297.8 L486.4,298.78 L486.8,299.26 L487.2,299.33 L487.6,299.02 L488,298.37 L488.4,297.4 L488.8,296.16 L489.2,294.72 L489.6,293.23 L490,291.84 L490.4,290.75 L490.8,290.11 L491.2,290.04 L491.6,290.54 L492,291.57 L492.4,292.96 L492.8,294.56 L493.2,296.16 L493.6,297.64 L494,298.87 L494.4,299.82 L494.8,300.48 L495.2,300.86 L495.6,301 L496,300.93 L496.4,300.68 L496.8,300.28 L497.2,299.75 L497.6,299.15 L498,298.53 L498.4,297.96 L498.8,297.52 L499.2,297.25 L499.6,297.2 L500,297.37 L500.4,297.73 L500.8,298.21 L501.2,298.75 L501.6,299.29 L502,299.78 L502.4,300.18 L502.8,300.49 L503.2,300.7 L503.6,300.82 L504,300.87 L504.4,300.85 L504.8,300.76 L505.2,300.61 L505.6,300.41 L506,300.18 L506.4,299.93 L506.8,299.69 L507.2,299.48 L507.6,299.35 L508,299.3 L508.4,299.35 L508.8,299.48 L509.2,299.68 L509.6,299.93 L510,300.18 L510.4,300.42 L510.8,300.62 L511.2,300.79 L511.6,300.91 L512,301 L512.4,301.06 L512.8,301.11 L513.2,301.15 L513.6,301.19 L514,301.22 L514.4,301.26 L514.8,301.3 L515.2,301.35 L515.6,301.39 L516,301.43" fill="none" stroke="#e01010" stroke-width="1.6" stroke-linejoin="round"/>
<rect x="380.6" y="181.2" width="136" height="122.1" fill="none" stroke="#8a8a8a" stroke-width="0.9"/>
<line x1="380.6" y1="303.1" x2="381.90000000000003" y2="303.1" stroke="#8a8a8a" stroke-width="0.7"/>
<line x1="516.6" y1="303.1" x2="515.3000000000001" y2="303.1" stroke="#8a8a8a" stroke-width="0.7"/>
<text x="378.8" y="305.5" text-anchor="end" font-size="6.8" font-family='"Liberation Sans", sans-serif' fill="#111" stroke="#111" stroke-width="0.25">0</text>
<line x1="380.6" y1="286.3" x2="381.90000000000003" y2="286.3" stroke="#8a8a8a" stroke-width="0.7"/>
<line x1="516.6" y1="286.3" x2="515.3000000000001" y2="286.3" stroke="#8a8a8a" stroke-width="0.7"/>
<text x="378.8" y="288.7" text-anchor="end" font-size="6.8" font-family='"Liberation Sans", sans-serif' fill="#111" stroke="#111" stroke-width="0.25">2000</text>
<line x1="380.6" y1="269.5" x2="381.90000000000003" y2="269.5" stroke="#8a8a8a" stroke-width="0.7"/>
<line x1="516.6" y1="269.5" x2="515.3000000000001" y2="269.5" stroke="#8a8a8a" stroke-width="0.7"/>
<text x="378.8" y="271.9" text-anchor="end" font-size="6.8" font-family='"Liberation Sans", sans-serif' fill="#111" stroke="#111" stroke-width="0.25">4000</text>
<line x1="380.6" y1="252.7" x2="381.90000000000003" y2="252.7" stroke="#8a8a8a" stroke-width="0.7"/>
<line x1="516.6" y1="252.7" x2="515.3000000000001" y2="252.7" stroke="#8a8a8a" stroke-width="0.7"/>
<text x="378.8" y="255.1" text-anchor="end" font-size="6.8" font-family='"Liberation Sans", sans-serif' fill="#111" stroke="#111" stroke-width="0.25">6000</text>
<line x1="380.6" y1="235.9" x2="381.90000000000003" y2="235.9" stroke="#8a8a8a" stroke-width="0.7"/>
<line x1="516.6" y1="235.9" x2="515.3000000000001" y2="235.9" stroke="#8a8a8a" stroke-width="0.7"/>
<text x="378.8" y="238.3" text-anchor="end" font-size="6.8" font-family='"Liberation Sans", sans-serif' fill="#111" stroke="#111" stroke-width="0.25">8000</text>
<line x1="380.6" y1="219.1" x2="381.90000000000003" y2="219.1" stroke="#8a8a8a" stroke-width="0.7"/>
<line x1="516.6" y1="219.1" x2="515.3000000000001" y2="219.1" stroke="#8a8a8a" stroke-width="0.7"/>
<text x="378.8" y="221.5" text-anchor="end" font-size="6.8" font-family='"Liberation Sans", sans-serif' fill="#111" stroke="#111" stroke-width="0.25">10000</text>
<line x1="380.6" y1="202.3" x2="381.90000000000003" y2="202.3" stroke="#8a8a8a" stroke-width="0.7"/>
<line x1="516.6" y1="202.3" x2="515.3000000000001" y2="202.3" stroke="#8a8a8a" stroke-width="0.7"/>
<text x="378.8" y="204.7" text-anchor="end" font-size="6.8" font-family='"Liberation Sans", sans-serif' fill="#111" stroke="#111" stroke-width="0.25">12000</text>
<line x1="380.6" y1="185.5" x2="381.90000000000003" y2="185.5" stroke="#8a8a8a" stroke-width="0.7"/>
<line x1="516.6" y1="185.5" x2="515.3000000000001" y2="185.5" stroke="#8a8a8a" stroke-width="0.7"/>
<text x="378.8" y="187.9" text-anchor="end" font-size="6.8" font-family='"Liberation Sans", sans-serif' fill="#111" stroke="#111" stroke-width="0.25">14000</text>
<line x1="411.5" y1="181.2" x2="411.5" y2="182.39999999999998" stroke="#aaa" stroke-width="0.6"/>
<text x="411.5" y="311.7" text-anchor="middle" font-size="6.8" font-family='"Liberation Sans", sans-serif' fill="#111" stroke="#111" stroke-width="0.25">21</text>
<line x1="421.2" y1="181.2" x2="421.2" y2="182.39999999999998" stroke="#aaa" stroke-width="0.6"/>
<text x="421.2" y="311.7" text-anchor="middle" font-size="6.8" font-family='"Liberation Sans", sans-serif' fill="#111" stroke="#111" stroke-width="0.25">24</text>
<line x1="430" y1="181.2" x2="430" y2="182.39999999999998" stroke="#aaa" stroke-width="0.6"/>
<text x="430" y="311.7" text-anchor="middle" font-size="6.8" font-family='"Liberation Sans", sans-serif' fill="#111" stroke="#111" stroke-width="0.25">27</text>
<line x1="438.8" y1="181.2" x2="438.8" y2="182.39999999999998" stroke="#aaa" stroke-width="0.6"/>
<text x="438.8" y="311.7" text-anchor="middle" font-size="6.8" font-family='"Liberation Sans", sans-serif' fill="#111" stroke="#111" stroke-width="0.25">30</text>
<line x1="447.3" y1="181.2" x2="447.3" y2="182.39999999999998" stroke="#aaa" stroke-width="0.6"/>
<text x="447.3" y="311.7" text-anchor="middle" font-size="6.8" font-family='"Liberation Sans", sans-serif' fill="#111" stroke="#111" stroke-width="0.25">33</text>
<line x1="456.1" y1="181.2" x2="456.1" y2="182.39999999999998" stroke="#aaa" stroke-width="0.6"/>
<text x="456.1" y="311.7" text-anchor="middle" font-size="6.8" font-family='"Liberation Sans", sans-serif' fill="#111" stroke="#111" stroke-width="0.25">36</text>
<line x1="464.7" y1="181.2" x2="464.7" y2="182.39999999999998" stroke="#aaa" stroke-width="0.6"/>
<text x="464.7" y="311.7" text-anchor="middle" font-size="6.8" font-family='"Liberation Sans", sans-serif' fill="#111" stroke="#111" stroke-width="0.25">39</text>
<line x1="473.4" y1="181.2" x2="473.4" y2="182.39999999999998" stroke="#aaa" stroke-width="0.6"/>
<text x="473.4" y="311.7" text-anchor="middle" font-size="6.8" font-family='"Liberation Sans", sans-serif' fill="#111" stroke="#111" stroke-width="0.25">42</text>
<line x1="482.2" y1="181.2" x2="482.2" y2="182.39999999999998" stroke="#aaa" stroke-width="0.6"/>
<text x="482.2" y="311.7" text-anchor="middle" font-size="6.8" font-family='"Liberation Sans", sans-serif' fill="#111" stroke="#111" stroke-width="0.25">45</text>
<line x1="491.2" y1="181.2" x2="491.2" y2="182.39999999999998" stroke="#aaa" stroke-width="0.6"/>
<text x="491.2" y="311.7" text-anchor="middle" font-size="6.8" font-family='"Liberation Sans", sans-serif' fill="#111" stroke="#111" stroke-width="0.25">48</text>
<line x1="499.5" y1="181.2" x2="499.5" y2="182.39999999999998" stroke="#aaa" stroke-width="0.6"/>
<text x="499.5" y="311.7" text-anchor="middle" font-size="6.8" font-family='"Liberation Sans", sans-serif' fill="#111" stroke="#111" stroke-width="0.25">51</text>
<line x1="507.3" y1="181.2" x2="507.3" y2="182.39999999999998" stroke="#aaa" stroke-width="0.6"/>
<text x="507.3" y="311.7" text-anchor="middle" font-size="6.8" font-family='"Liberation Sans", sans-serif' fill="#111" stroke="#111" stroke-width="0.25">54</text>
<line x1="514.3" y1="181.2" x2="514.3" y2="182.39999999999998" stroke="#aaa" stroke-width="0.6"/>
<text x="514.3" y="311.7" text-anchor="middle" font-size="6.8" font-family='"Liberation Sans", sans-serif' fill="#111" stroke="#111" stroke-width="0.25">57</text>
<text transform="translate(450.6,319.6) scale(1,0.92)" text-anchor="middle" font-size="7" font-weight="bold" font-family='"Liberation Mono", monospace' fill="#111" stroke="#111" stroke-width="0.2">cdr3 length</text>
<text transform="translate(452.1,176.4) scale(1,1)" text-anchor="middle" font-size="7" font-weight="bold" font-family='"Liberation Mono", monospace' fill="#111" stroke="#111" stroke-width="0.25">TRBV 27</text>
<text transform="translate(355,240.25) rotate(-90)" x="0" y="0" text-anchor="middle" font-size="7" font-weight="bold" font-family='"Liberation Mono", monospace' fill="#222">copy number count</text>
<line x1="55.4" y1="348.3" x2="55.4" y2="352.3" stroke="#8a8a8a" stroke-width="0.8"/>
<line x1="55.4" y1="625.6" x2="55.4" y2="621.6" stroke="#8a8a8a" stroke-width="0.8"/>
<text x="55.4" y="633" text-anchor="middle" font-size="6.5" font-family='"Liberation Sans", sans-serif' fill="#111" stroke="#111" stroke-width="0.2">21</text>
<line x1="83.7" y1="348.3" x2="83.7" y2="352.3" stroke="#8a8a8a" stroke-width="0.8"/>
<line x1="83.7" y1="625.6" x2="83.7" y2="621.6" stroke="#8a8a8a" stroke-width="0.8"/>
<text x="83.7" y="633" text-anchor="middle" font-size="6.5" font-family='"Liberation Sans", sans-serif' fill="#111" stroke="#111" stroke-width="0.2">24</text>
<line x1="112" y1="348.3" x2="112" y2="352.3" stroke="#8a8a8a" stroke-width="0.8"/>
<line x1="112" y1="625.6" x2="112" y2="621.6" stroke="#8a8a8a" stroke-width="0.8"/>
<text x="112" y="633" text-anchor="middle" font-size="6.5" font-family='"Liberation Sans", sans-serif' fill="#111" stroke="#111" stroke-width="0.2">27</text>
<line x1="140.3" y1="348.3" x2="140.3" y2="352.3" stroke="#8a8a8a" stroke-width="0.8"/>
<line x1="140.3" y1="625.6" x2="140.3" y2="621.6" stroke="#8a8a8a" stroke-width="0.8"/>
<text x="140.3" y="633" text-anchor="middle" font-size="6.5" font-family='"Liberation Sans", sans-serif' fill="#111" stroke="#111" stroke-width="0.2">30</text>
<line x1="168.6" y1="348.3" x2="168.6" y2="352.3" stroke="#8a8a8a" stroke-width="0.8"/>
<line x1="168.6" y1="625.6" x2="168.6" y2="621.6" stroke="#8a8a8a" stroke-width="0.8"/>
<text x="168.6" y="633" text-anchor="middle" font-size="6.5" font-family='"Liberation Sans", sans-serif' fill="#111" stroke="#111" stroke-width="0.2">33</text>
<line x1="196.9" y1="348.3" x2="196.9" y2="352.3" stroke="#8a8a8a" stroke-width="0.8"/>
<line x1="196.9" y1="625.6" x2="196.9" y2="621.6" stroke="#8a8a8a" stroke-width="0.8"/>
<text x="196.9" y="633" text-anchor="middle" font-size="6.5" font-family='"Liberation Sans", sans-serif' fill="#111" stroke="#111" stroke-width="0.2">36</text>
<line x1="225.2" y1="348.3" x2="225.2" y2="352.3" stroke="#8a8a8a" stroke-width="0.8"/>
<line x1="225.2" y1="625.6" x2="225.2" y2="621.6" stroke="#8a8a8a" stroke-width="0.8"/>
<text x="225.2" y="633" text-anchor="middle" font-size="6.5" font-family='"Liberation Sans", sans-serif' fill="#111" stroke="#111" stroke-width="0.2">39</text>
<line x1="253.5" y1="348.3" x2="253.5" y2="352.3" stroke="#8a8a8a" stroke-width="0.8"/>
<line x1="253.5" y1="625.6" x2="253.5" y2="621.6" stroke="#8a8a8a" stroke-width="0.8"/>
<text x="253.5" y="633" text-anchor="middle" font-size="6.5" font-family='"Liberation Sans", sans-serif' fill="#111" stroke="#111" stroke-width="0.2">42</text>
<line x1="281.8" y1="348.3" x2="281.8" y2="352.3" stroke="#8a8a8a" stroke-width="0.8"/>
<line x1="281.8" y1="625.6" x2="281.8" y2="621.6" stroke="#8a8a8a" stroke-width="0.8"/>
<text x="281.8" y="633" text-anchor="middle" font-size="6.5" font-family='"Liberation Sans", sans-serif' fill="#111" stroke="#111" stroke-width="0.2">45</text>
<line x1="310.1" y1="348.3" x2="310.1" y2="352.3" stroke="#8a8a8a" stroke-width="0.8"/>
<line x1="310.1" y1="625.6" x2="310.1" y2="621.6" stroke="#8a8a8a" stroke-width="0.8"/>
<text x="310.1" y="633" text-anchor="middle" font-size="6.5" font-family='"Liberation Sans", sans-serif' fill="#111" stroke="#111" stroke-width="0.2">48</text>
<line x1="338.4" y1="348.3" x2="338.4" y2="352.3" stroke="#8a8a8a" stroke-width="0.8"/>
<line x1="338.4" y1="625.6" x2="338.4" y2="621.6" stroke="#8a8a8a" stroke-width="0.8"/>
<text x="338.4" y="633" text-anchor="middle" font-size="6.5" font-family='"Liberation Sans", sans-serif' fill="#111" stroke="#111" stroke-width="0.2">51</text>
<line x1="366.7" y1="348.3" x2="366.7" y2="352.3" stroke="#8a8a8a" stroke-width="0.8"/>
<line x1="366.7" y1="625.6" x2="366.7" y2="621.6" stroke="#8a8a8a" stroke-width="0.8"/>
<text x="366.7" y="633" text-anchor="middle" font-size="6.5" font-family='"Liberation Sans", sans-serif' fill="#111" stroke="#111" stroke-width="0.2">54</text>
<line x1="395" y1="348.3" x2="395" y2="352.3" stroke="#8a8a8a" stroke-width="0.8"/>
<line x1="395" y1="625.6" x2="395" y2="621.6" stroke="#8a8a8a" stroke-width="0.8"/>
<text x="395" y="633" text-anchor="middle" font-size="6.5" font-family='"Liberation Sans", sans-serif' fill="#111" stroke="#111" stroke-width="0.2">57</text>
<rect x="44.1" y="624.4" width="22.6" height="1.2" fill="#8aa898"/>
<rect x="44.1" y="623" width="22.6" height="1.4" fill="#a8dcc4"/>
<rect x="72.4" y="624.6" width="22.6" height="1" fill="#a00830"/>
<rect x="72.4" y="621.9" width="22.6" height="2.7" fill="#c8104c"/>
<rect x="72.4" y="620.6" width="22.6" height="1.3" fill="#f09060"/>
<rect x="72.4" y="616.5" width="22.6" height="4.1" fill="#7fffd4"/>
<rect x="72.4" y="609.4" width="22.6" height="7.1" fill="#000080"/>
<rect x="100.7" y="624.4" width="22.6" height="1.2" fill="#000000"/>
<rect x="100.7" y="621.3" width="22.6" height="3.1" fill="#f02810"/>
<rect x="100.7" y="620.2" width="22.6" height="1.1" fill="#602020"/>
<rect x="100.7" y="616.3" width="22.6" height="3.9" fill="#7fffd4"/>
<rect x="100.7" y="611.9" width="22.6" height="4.4" fill="#0000ff"/>
<rect x="129" y="608.5" width="22.6" height="17.1" fill="#000000"/>
<rect x="129" y="599.8" width="22.6" height="8.7" fill="#ff0000"/>
<rect x="129" y="594.5" width="22.6" height="5.3" fill="#ffff00"/>
<rect x="129" y="590.3" width="22.6" height="4.2" fill="#ff00ff"/>
<rect x="129" y="587.1" width="22.6" height="3.2" fill="#00ffff"/>
<rect x="129" y="583.6" width="22.6" height="3.5" fill="#808080"/>
<rect x="129" y="575.7" width="22.6" height="7.9" fill="#800000"/>
<rect x="129" y="569.5" width="22.6" height="6.2" fill="#ff9f6e"/>
<rect x="129" y="552.3" width="22.6" height="17.2" fill="#7fffd4"/>
<rect x="129" y="551.3" width="22.6" height="1" fill="#107010"/>
<rect x="129" y="544" width="22.6" height="7.3" fill="#000080"/>
<rect x="129" y="522.9" width="22.6" height="21.1" fill="#0000ff"/>
<rect x="157.3" y="583.6" width="22.6" height="42" fill="#000000"/>
<rect x="157.3" y="555.1" width="22.6" height="28.5" fill="#ff0000"/>
<rect x="157.3" y="548.8" width="22.6" height="6.3" fill="#ffff00"/>
<rect x="157.3" y="540.5" width="22.6" height="8.3" fill="#ff00ff"/>
<rect x="157.3" y="534.3" width="22.6" height="6.2" fill="#00ffff"/>
<rect x="157.3" y="522" width="22.6" height="12.3" fill="#808080"/>
<rect x="157.3" y="505.5" width="22.6" height="16.5" fill="#800000"/>
<rect x="157.3" y="495.7" width="22.6" height="9.8" fill="#ff9f6e"/>
<rect x="157.3" y="479.7" width="22.6" height="16" fill="#7fffd4"/>
<rect x="157.3" y="478.9" width="22.6" height="0.8" fill="#107010"/>
<rect x="157.3" y="462" width="22.6" height="16.9" fill="#000080"/>
<rect x="157.3" y="459" width="22.6" height="3" fill="#00ff00"/>
<rect x="157.3" y="430.1" width="22.6" height="28.9" fill="#0000ff"/>
<rect x="185.6" y="579.6" width="22.6" height="46" fill="#000000"/>
<rect x="185.6" y="558.6" width="22.6" height="21" fill="#ff0000"/>
<rect x="185.6" y="552.4" width="22.6" height="6.2" fill="#ffff00"/>
<rect x="185.6" y="543.9" width="22.6" height="8.5" fill="#ff00ff"/>
<rect x="185.6" y="535.6" width="22.6" height="8.3" fill="#00ffff"/>
<rect x="185.6" y="524.3" width="22.6" height="11.3" fill="#808080"/>
<rect x="185.6" y="493.7" width="22.6" height="30.6" fill="#800000"/>
<rect x="185.6" y="472.9" width="22.6" height="20.8" fill="#ff9f6e"/>
<rect x="185.6" y="445.7" width="22.6" height="27.2" fill="#7fffd4"/>
<rect x="185.6" y="444.9" width="22.6" height="0.8" fill="#107010"/>
<rect x="185.6" y="430.6" width="22.6" height="14.3" fill="#000080"/>
<rect x="185.6" y="427.2" width="22.6" height="3.4" fill="#00ff00"/>
<rect x="185.6" y="381.4" width="22.6" height="45.8" fill="#0000ff"/>
<rect x="213.9" y="604.1" width="22.6" height="21.5" fill="#000000"/>
<rect x="213.9" y="587.3" width="22.6" height="16.8" fill="#ff0000"/>
<rect x="213.9" y="579.2" width="22.6" height="8.1" fill="#ffff00"/>
<rect x="213.9" y="572.1" width="22.6" height="7.1" fill="#ff00ff"/>
<rect x="213.9" y="567.6" width="22.6" height="4.5" fill="#00ffff"/>
<rect x="213.9" y="554.8" width="22.6" height="12.8" fill="#808080"/>
<rect x="213.9" y="526.7" width="22.6" height="28.1" fill="#800000"/>
<rect x="213.9" y="507.8" width="22.6" height="18.9" fill="#ff9f6e"/>
<rect x="213.9" y="482.2" width="22.6" height="25.6" fill="#7fffd4"/>
<rect x="213.9" y="480.5" width="22.6" height="1.7" fill="#107010"/>
<rect x="213.9" y="470.6" width="22.6" height="9.9" fill="#000080"/>
<rect x="213.9" y="468.4" width="22.6" height="2.2" fill="#00ff00"/>
<rect x="213.9" y="437.1" width="22.6" height="31.3" fill="#0000ff"/>
<rect x="242.2" y="607.3" width="22.6" height="18.3" fill="#000000"/>
<rect x="242.2" y="600.3" width="22.6" height="7" fill="#ff0000"/>
<rect x="242.2" y="593.8" width="22.6" height="6.5" fill="#ffff00"/>
<rect x="242.2" y="590" width="22.6" height="3.8" fill="#ff00ff"/>
<rect x="242.2" y="585.3" width="22.6" height="4.7" fill="#00ffff"/>
<rect x="242.2" y="579.5" width="22.6" height="5.8" fill="#808080"/>
<rect x="242.2" y="558.9" width="22.6" height="20.6" fill="#800000"/>
<rect x="242.2" y="550" width="22.6" height="8.9" fill="#ff9f6e"/>
<rect x="242.2" y="533.9" width="22.6" height="16.1" fill="#7fffd4"/>
<rect x="242.2" y="532.8" width="22.6" height="1.1" fill="#107010"/>
<rect x="242.2" y="526" width="22.6" height="6.8" fill="#000080"/>
<rect x="242.2" y="521" width="22.6" height="5" fill="#00ff00"/>
<rect x="242.2" y="501.8" width="22.6" height="19.2" fill="#0000ff"/>
<rect x="270.5" y="619.9" width="22.6" height="5.7" fill="#000000"/>
<rect x="270.5" y="617.2" width="22.6" height="2.7" fill="#ff0000"/>
<rect x="270.5" y="613.2" width="22.6" height="4" fill="#ffff00"/>
<rect x="270.5" y="611.8" width="22.6" height="1.4" fill="#ff00ff"/>
<rect x="270.5" y="608.5" width="22.6" height="3.3" fill="#00ffff"/>
<rect x="270.5" y="606.8" width="22.6" height="1.7" fill="#808080"/>
<rect x="270.5" y="600.1" width="22.6" height="6.7" fill="#800000"/>
<rect x="270.5" y="593.6" width="22.6" height="6.5" fill="#ff9f6e"/>
<rect x="270.5" y="584" width="22.6" height="9.6" fill="#7fffd4"/>
<rect x="270.5" y="580.2" width="22.6" height="3.8" fill="#000080"/>
<rect x="270.5" y="578.6" width="22.6" height="1.6" fill="#107010"/>
<rect x="270.5" y="576.8" width="22.6" height="1.8" fill="#10d010"/>
<rect x="270.5" y="570.8" width="22.6" height="6" fill="#0000ff"/>
<rect x="298.8" y="623.3" width="22.6" height="2.3" fill="#800000"/>
<rect x="298.8" y="619.9" width="22.6" height="3.4" fill="#ffff00"/>
<rect x="298.8" y="615.5" width="22.6" height="4.4" fill="#800000"/>
<rect x="298.8" y="612.2" width="22.6" height="3.3" fill="#ff9f6e"/>
<rect x="298.8" y="608.2" width="22.6" height="4" fill="#7fffd4"/>
<rect x="298.8" y="605.1" width="22.6" height="3.1" fill="#20b020"/>
<rect x="298.8" y="602.4" width="22.6" height="2.7" fill="#0000ff"/>
<rect x="327.1" y="623" width="22.6" height="2.6" fill="#800000"/>
<rect x="327.1" y="621.8" width="22.6" height="1.2" fill="#ff9f6e"/>
<rect x="327.1" y="618.9" width="22.6" height="2.9" fill="#7fffd4"/>
<rect x="327.1" y="616.1" width="22.6" height="2.8" fill="#0000ff"/>
<rect x="355.4" y="624.6" width="22.6" height="1" fill="#808080"/>
<rect x="355.4" y="622.9" width="22.6" height="1.7" fill="#7fffd4"/>
<rect x="383.7" y="624.4" width="22.6" height="1.2" fill="#000080"/>
<rect x="37" y="348.3" width="480.8" height="277.3" fill="none" stroke="#8a8a8a" stroke-width="1"/>
<line x1="37" y1="625.6" x2="41" y2="625.6" stroke="#8a8a8a" stroke-width="0.8"/>
<line x1="517.8" y1="625.6" x2="513.8" y2="625.6" stroke="#8a8a8a" stroke-width="0.8"/>
<text x="35.2" y="627" text-anchor="end" font-size="6.5" font-family='"Liberation Sans", sans-serif' fill="#111" stroke="#111" stroke-width="0.2">0</text>
<line x1="37" y1="579.6" x2="41" y2="579.6" stroke="#8a8a8a" stroke-width="0.8"/>
<line x1="517.8" y1="579.6" x2="513.8" y2="579.6" stroke="#8a8a8a" stroke-width="0.8"/>
<text x="35.2" y="581" text-anchor="end" font-size="6.5" font-family='"Liberation Sans", sans-serif' fill="#111" stroke="#111" stroke-width="0.2">2000</text>
<line x1="37" y1="533.6" x2="41" y2="533.6" stroke="#8a8a8a" stroke-width="0.8"/>
<line x1="517.8" y1="533.6" x2="513.8" y2="533.6" stroke="#8a8a8a" stroke-width="0.8"/>
<text x="35.2" y="535" text-anchor="end" font-size="6.5" font-family='"Liberation Sans", sans-serif' fill="#111" stroke="#111" stroke-width="0.2">4000</text>
<line x1="37" y1="487.6" x2="41" y2="487.6" stroke="#8a8a8a" stroke-width="0.8"/>
<line x1="517.8" y1="487.6" x2="513.8" y2="487.6" stroke="#8a8a8a" stroke-width="0.8"/>
<text x="35.2" y="489" text-anchor="end" font-size="6.5" font-family='"Liberation Sans", sans-serif' fill="#111" stroke="#111" stroke-width="0.2">6000</text>
<line x1="37" y1="441.6" x2="41" y2="441.6" stroke="#8a8a8a" stroke-width="0.8"/>
<line x1="517.8" y1="441.6" x2="513.8" y2="441.6" stroke="#8a8a8a" stroke-width="0.8"/>
<text x="35.2" y="443" text-anchor="end" font-size="6.5" font-family='"Liberation Sans", sans-serif' fill="#111" stroke="#111" stroke-width="0.2">8000</text>
<line x1="37" y1="395.6" x2="41" y2="395.6" stroke="#8a8a8a" stroke-width="0.8"/>
<line x1="517.8" y1="395.6" x2="513.8" y2="395.6" stroke="#8a8a8a" stroke-width="0.8"/>
<text x="35.2" y="397" text-anchor="end" font-size="6.5" font-family='"Liberation Sans", sans-serif' fill="#111" stroke="#111" stroke-width="0.2">10000</text>
<line x1="37" y1="349.6" x2="41" y2="349.6" stroke="#8a8a8a" stroke-width="0.8"/>
<line x1="517.8" y1="349.6" x2="513.8" y2="349.6" stroke="#8a8a8a" stroke-width="0.8"/>
<text x="35.2" y="351" text-anchor="end" font-size="6.5" font-family='"Liberation Sans", sans-serif' fill="#111" stroke="#111" stroke-width="0.2">12000</text>
<rect x="42.8" y="353.2" width="18.6" height="6.7" fill="#000000"/>
<text x="63.4" y="358.8" font-size="6.6" font-family='"Liberation Sans", sans-serif' fill="#000" stroke="#000" stroke-width="0.25">J1-1</text>
<rect x="42.8" y="361.8" width="18.6" height="6.7" fill="#ff0000"/>
<text x="63.4" y="367.4" font-size="6.6" font-family='"Liberation Sans", sans-serif' fill="#000" stroke="#000" stroke-width="0.25">J1-2</text>
<rect x="42.8" y="370.4" width="18.6" height="6.7" fill="#ffff00"/>
<text x="63.4" y="376" font-size="6.6" font-family='"Liberation Sans", sans-serif' fill="#000" stroke="#000" stroke-width="0.25">J1-3</text>
<rect x="42.8" y="379" width="18.6" height="6.7" fill="#ff00ff"/>
<text x="63.4" y="384.6" font-size="6.6" font-family='"Liberation Sans", sans-serif' fill="#000" stroke="#000" stroke-width="0.25">J1-4</text>
<rect x="42.8" y="387.6" width="18.6" height="6.7" fill="#00ffff"/>
<text x="63.4" y="393.2" font-size="6.6" font-family='"Liberation Sans", sans-serif' fill="#000" stroke="#000" stroke-width="0.25">J1-5</text>
<rect x="42.8" y="396.2" width="18.6" height="6.7" fill="#808080"/>
<text x="63.4" y="401.8" font-size="6.6" font-family='"Liberation Sans", sans-serif' fill="#000" stroke="#000" stroke-width="0.25">J1-6</text>
<rect x="42.8" y="404.8" width="18.6" height="6.7" fill="#800000"/>
<text x="63.4" y="410.4" font-size="6.6" font-family='"Liberation Sans", sans-serif' fill="#000" stroke="#000" stroke-width="0.25">J2-1</text>
<rect x="42.8" y="413.4" width="18.6" height="6.7" fill="#ff9f6e"/>
<text x="63.4" y="419" font-size="6.6" font-family='"Liberation Sans", sans-serif' fill="#000" stroke="#000" stroke-width="0.25">J2-2</text>
<rect x="42.8" y="422" width="18.6" height="6.7" fill="#7fffd4"/>
<text x="63.4" y="427.6" font-size="6.6" font-family='"Liberation Sans", sans-serif' fill="#000" stroke="#000" stroke-width="0.25">J2-3</text>
<rect x="42.8" y="430.6" width="18.6" height="6.7" fill="#107010"/>
<text x="63.4" y="436.2" font-size="6.6" font-family='"Liberation Sans", sans-serif' fill="#000" stroke="#000" stroke-width="0.25">J2-4</text>
<rect x="42.8" y="439.2" width="18.6" height="6.7" fill="#000080"/>
<text x="63.4" y="444.8" font-size="6.6" font-family='"Liberation Sans", sans-serif' fill="#000" stroke="#000" stroke-width="0.25">J2-5</text>
<rect x="42.8" y="447.8" width="18.6" height="6.7" fill="#00ff00"/>
<text x="63.4" y="453.4" font-size="6.6" font-family='"Liberation Sans", sans-serif' fill="#000" stroke="#000" stroke-width="0.25">J2-6</text>
<rect x="42.8" y="456.4" width="18.6" height="6.7" fill="#0000ff"/>
<text x="63.4" y="462" font-size="6.6" font-family='"Liberation Sans", sans-serif' fill="#000" stroke="#000" stroke-width="0.25">J2-7</text>
<text x="277" y="343.5" text-anchor="middle" font-size="6.6" font-weight="bold" font-family='"Liberation Sans", sans-serif' fill="#222">TRBV 10</text>
<text x="0.2" y="351.3" font-size="17.5" font-weight="bold" font-family='"Liberation Sans", sans-serif' fill="#000" stroke="#000" stroke-width="0.35">B</text>
<text x="197.8" y="650" text-anchor="middle" font-size="14.3" font-family='"Liberation Sans", sans-serif' fill="#111">CDR3 Length (nt)</text>
<text transform="translate(11.8,491) rotate(-90)" text-anchor="middle" font-size="14.5" font-family='"Liberation Sans", sans-serif' fill="#111">Unique TCRβ CDR3 Sequences</text>
<line x1="237.5" y1="469.8" x2="271.3" y2="378.2" stroke="#3fd03f" stroke-width="1.1"/>
<line x1="237.5" y1="469.8" x2="271.3" y2="492.5" stroke="#3fd03f" stroke-width="1.1"/>
<text transform="translate(272.5,380.75) scale(1,0.82)" font-size="6.77" font-weight="bold" font-family='"Liberation Mono", monospace' stroke-width="0.05"><tspan fill="#cc3a3a" stroke="#cc3a3a">CACATCTGTGTACTTCTGTGCCATCAG</tspan><tspan fill="#3838c8" stroke="#3838c8">ACAGG</tspan><tspan fill="#181818" stroke="#181818">ACGCCTG</tspan><tspan fill="#4cd44c" stroke="#4cd44c">TGGGGCCAACGTCCT</tspan></text>
<text transform="translate(503.6,380.95) scale(1,0.9)" font-size="6.77" font-weight="bold" font-family='"Liberation Mono", monospace' fill="#111">2</text>
<text transform="translate(272.5,388.35) scale(1,0.82)" font-size="6.77" font-weight="bold" font-family='"Liberation Mono", monospace' stroke-width="0.05"><tspan fill="#cc3a3a" stroke="#cc3a3a">GACATCTGTGTACTTCTGTGCCATCAGT</tspan><tspan fill="#181818" stroke="#181818">T</tspan><tspan fill="#3838c8" stroke="#3838c8">TACAG</tspan><tspan fill="#181818" stroke="#181818">TT</tspan><tspan fill="#4cd44c" stroke="#4cd44c">CTCTGGGGCCAACGTCCT</tspan></text>
<text transform="translate(503.6,388.55) scale(1,0.9)" font-size="6.77" font-weight="bold" font-family='"Liberation Mono", monospace' fill="#111">11</text>
<text transform="translate(272.5,395.95) scale(1,0.82)" font-size="6.77" font-weight="bold" font-family='"Liberation Mono", monospace' stroke-width="0.05"><tspan fill="#cc3a3a" stroke="#cc3a3a">TACCTCTGTGTACTTCTGTGCCATCAGT</tspan><tspan fill="#181818" stroke="#181818">TCCG</tspan><tspan fill="#3838c8" stroke="#3838c8">AG</tspan><tspan fill="#181818" stroke="#181818">CT</tspan><tspan fill="#4cd44c" stroke="#4cd44c">CTCTGGGGCCAACGTCCT</tspan></text>
<text transform="translate(503.6,396.15) scale(1,0.9)" font-size="6.77" font-weight="bold" font-family='"Liberation Mono", monospace' fill="#111">2</text>
<text transform="translate(272.5,403.55) scale(1,0.82)" font-size="6.77" font-weight="bold" font-family='"Liberation Mono", monospace' stroke-width="0.05"><tspan fill="#cc3a3a" stroke="#cc3a3a">TCCATCTGTGTACTTCTGTGCCATCAGT</tspan><tspan fill="#3838c8" stroke="#3838c8">TCAGGG</tspan><tspan fill="#181818" stroke="#181818">AGCT</tspan><tspan fill="#4cd44c" stroke="#4cd44c">CTGGGGCCAACGTCCT</tspan></text>
<text transform="translate(503.6,403.75) scale(1,0.9)" font-size="6.77" font-weight="bold" font-family='"Liberation Mono", monospace' fill="#111">2</text>
<text transform="translate(272.5,411.15) scale(1,0.82)" font-size="6.77" font-weight="bold" font-family='"Liberation Mono", monospace' stroke-width="0.05"><tspan fill="#cc3a3a" stroke="#cc3a3a">CACATCTGTGTACTTCTGTGCCATCA</tspan><tspan fill="#3838c8" stroke="#3838c8">ACAG</tspan><tspan fill="#181818" stroke="#181818">TGAACC</tspan><tspan fill="#4cd44c" stroke="#4cd44c">CTCTGGGGCCAACGTCCT</tspan></text>
<text transform="translate(503.6,411.35) scale(1,0.9)" font-size="6.77" font-weight="bold" font-family='"Liberation Mono", monospace' fill="#111">11</text>
<text transform="translate(272.5,418.75) scale(1,0.82)" font-size="6.77" font-weight="bold" font-family='"Liberation Mono", monospace' stroke-width="0.05"><tspan fill="#cc3a3a" stroke="#cc3a3a">GACATCTGTGTACTTCTGTGCCATCAGTGAG</tspan><tspan fill="#3838c8" stroke="#3838c8">GAC</tspan><tspan fill="#181818" stroke="#181818">GA</tspan><tspan fill="#4cd44c" stroke="#4cd44c">CTCTGGGGCCAACGTCCT</tspan></text>
<text transform="translate(503.6,418.95) scale(1,0.9)" font-size="6.77" font-weight="bold" font-family='"Liberation Mono", monospace' fill="#111">2</text>
<text transform="translate(272.5,426.35) scale(1,0.82)" font-size="6.77" font-weight="bold" font-family='"Liberation Mono", monospace' stroke-width="0.05"><tspan fill="#cc3a3a" stroke="#cc3a3a">GACCTCTGTGTACTTCTTTGCCATCAGG</tspan><tspan fill="#3838c8" stroke="#3838c8">CGGGACAG</tspan><tspan fill="#181818" stroke="#181818">A</tspan><tspan fill="#4cd44c" stroke="#4cd44c">TCTGGGGCCAACGTCCT</tspan></text>
<text transform="translate(503.6,426.55) scale(1,0.9)" font-size="6.77" font-weight="bold" font-family='"Liberation Mono", monospace' fill="#111">2</text>
<text transform="translate(272.5,433.95) scale(1,0.82)" font-size="6.77" font-weight="bold" font-family='"Liberation Mono", monospace' stroke-width="0.05"><tspan fill="#cc3a3a" stroke="#cc3a3a">GACATCTGTGTACTTCTGTGCCATC</tspan><tspan fill="#3838c8" stroke="#3838c8">CGGGAC</tspan><tspan fill="#181818" stroke="#181818">CTCCGGC</tspan><tspan fill="#4cd44c" stroke="#4cd44c">CTGGGGCCAACGTCCT</tspan></text>
<text transform="translate(503.6,434.15) scale(1,0.9)" font-size="6.77" font-weight="bold" font-family='"Liberation Mono", monospace' fill="#111">2</text>
<text transform="translate(272.5,441.55) scale(1,0.82)" font-size="6.77" font-weight="bold" font-family='"Liberation Mono", monospace' stroke-width="0.05"><tspan fill="#cc3a3a" stroke="#cc3a3a">GACATCTGTGTACTTCTGTGCCATCAGTG</tspan><tspan fill="#181818" stroke="#181818">CGAGT</tspan><tspan fill="#3838c8" stroke="#3838c8">GGCA</tspan><tspan fill="#4cd44c" stroke="#4cd44c">CTGGGGCCAACGTCCT</tspan></text>
<text transform="translate(503.6,441.75) scale(1,0.9)" font-size="6.77" font-weight="bold" font-family='"Liberation Mono", monospace' fill="#111">4</text>
<text transform="translate(272.5,449.15) scale(1,0.82)" font-size="6.77" font-weight="bold" font-family='"Liberation Mono", monospace' stroke-width="0.05"><tspan fill="#cc3a3a" stroke="#cc3a3a">GACATCTGTGTACTTCTGTGCCATCAGTGA</tspan><tspan fill="#181818" stroke="#181818">TTAC</tspan><tspan fill="#3838c8" stroke="#3838c8">GCGGA</tspan><tspan fill="#4cd44c" stroke="#4cd44c">TGGGGCCAACGTCCT</tspan></text>
<text transform="translate(503.6,449.35) scale(1,0.9)" font-size="6.77" font-weight="bold" font-family='"Liberation Mono", monospace' fill="#111">25</text>
<text transform="translate(272.5,456.75) scale(1,0.82)" font-size="6.77" font-weight="bold" font-family='"Liberation Mono", monospace' stroke-width="0.05"><tspan fill="#cc3a3a" stroke="#cc3a3a">AACATCTTTGTACTTCTGTGCCATCAGTG</tspan><tspan fill="#181818" stroke="#181818">GGGGA</tspan><tspan fill="#3838c8" stroke="#3838c8">GGGGGG</tspan><tspan fill="#4cd44c" stroke="#4cd44c">GGGGCCAACGTCCT</tspan></text>
<text transform="translate(503.6,456.95) scale(1,0.9)" font-size="6.77" font-weight="bold" font-family='"Liberation Mono", monospace' fill="#111">6</text>
<text transform="translate(272.5,464.35) scale(1,0.82)" font-size="6.77" font-weight="bold" font-family='"Liberation Mono", monospace' stroke-width="0.05"><tspan fill="#cc3a3a" stroke="#cc3a3a">TATATCTTTTTTATTTCTGTGCAAGCAGTGAG</tspan><tspan fill="#3838c8" stroke="#3838c8">GGG</tspan><tspan fill="#181818" stroke="#181818">AAAGC</tspan><tspan fill="#4cd44c" stroke="#4cd44c">GGGGCCAACGTCCT</tspan></text>
<text transform="translate(503.6,464.55) scale(1,0.9)" font-size="6.77" font-weight="bold" font-family='"Liberation Mono", monospace' fill="#111">2</text>
<text transform="translate(272.5,471.95) scale(1,0.82)" font-size="6.77" font-weight="bold" font-family='"Liberation Mono", monospace' stroke-width="0.05"><tspan fill="#cc3a3a" stroke="#cc3a3a">GACATCTGTGTACTTCTGTGCCATCAGTGAGTC</tspan><tspan fill="#3838c8" stroke="#3838c8">GGGG</tspan><tspan fill="#181818" stroke="#181818">AAC</tspan><tspan fill="#4cd44c" stroke="#4cd44c">GGGGCCAACGTCCT</tspan></text>
<text transform="translate(503.6,472.15) scale(1,0.9)" font-size="6.77" font-weight="bold" font-family='"Liberation Mono", monospace' fill="#111">17</text>
<text transform="translate(272.5,479.55) scale(1,0.82)" font-size="6.77" font-weight="bold" font-family='"Liberation Mono", monospace' stroke-width="0.05"><tspan fill="#cc3a3a" stroke="#cc3a3a">GACATCTGTGTACTTCTGTGCCATCAGTGAG</tspan><tspan fill="#181818" stroke="#181818">CAAT</tspan><tspan fill="#3838c8" stroke="#3838c8">GGG</tspan><tspan fill="#181818" stroke="#181818">TA</tspan><tspan fill="#4cd44c" stroke="#4cd44c">GGGGCCAACGTCCT</tspan></text>
<text transform="translate(503.6,479.75) scale(1,0.9)" font-size="6.77" font-weight="bold" font-family='"Liberation Mono", monospace' fill="#111">8</text>
<text transform="translate(272.5,487.15) scale(1,0.82)" font-size="6.77" font-weight="bold" font-family='"Liberation Mono", monospace' stroke-width="0.05"><tspan fill="#cc3a3a" stroke="#cc3a3a">GACATCTGTGTACTTCTGTGCCATCA</tspan><tspan fill="#3838c8" stroke="#3838c8">CAGACAG</tspan><tspan fill="#181818" stroke="#181818">ACCGGGA</tspan><tspan fill="#4cd44c" stroke="#4cd44c">GGGGCCAACGTCCT</tspan></text>
<text transform="translate(503.6,487.35) scale(1,0.9)" font-size="6.77" font-weight="bold" font-family='"Liberation Mono", monospace' fill="#111">13</text>
<text transform="translate(272.5,494.75) scale(1,0.82)" font-size="6.77" font-weight="bold" font-family='"Liberation Mono", monospace' stroke-width="0.05"><tspan fill="#cc3a3a" stroke="#cc3a3a">CACATCTGTTTTTTTCTTTGCCATCAGT</tspan><tspan fill="#181818" stroke="#181818">TACTGCGGTTC</tspan><tspan fill="#3838c8" stroke="#3838c8">GGGGGC</tspan><tspan fill="#181818" stroke="#181818">A</tspan><tspan fill="#4cd44c" stroke="#4cd44c">AACGTCCT</tspan></text>
<text transform="translate(503.6,494.95) scale(1,0.9)" font-size="6.77" font-weight="bold" font-family='"Liberation Mono", monospace' fill="#111">2</text>
</svg></body></html>
